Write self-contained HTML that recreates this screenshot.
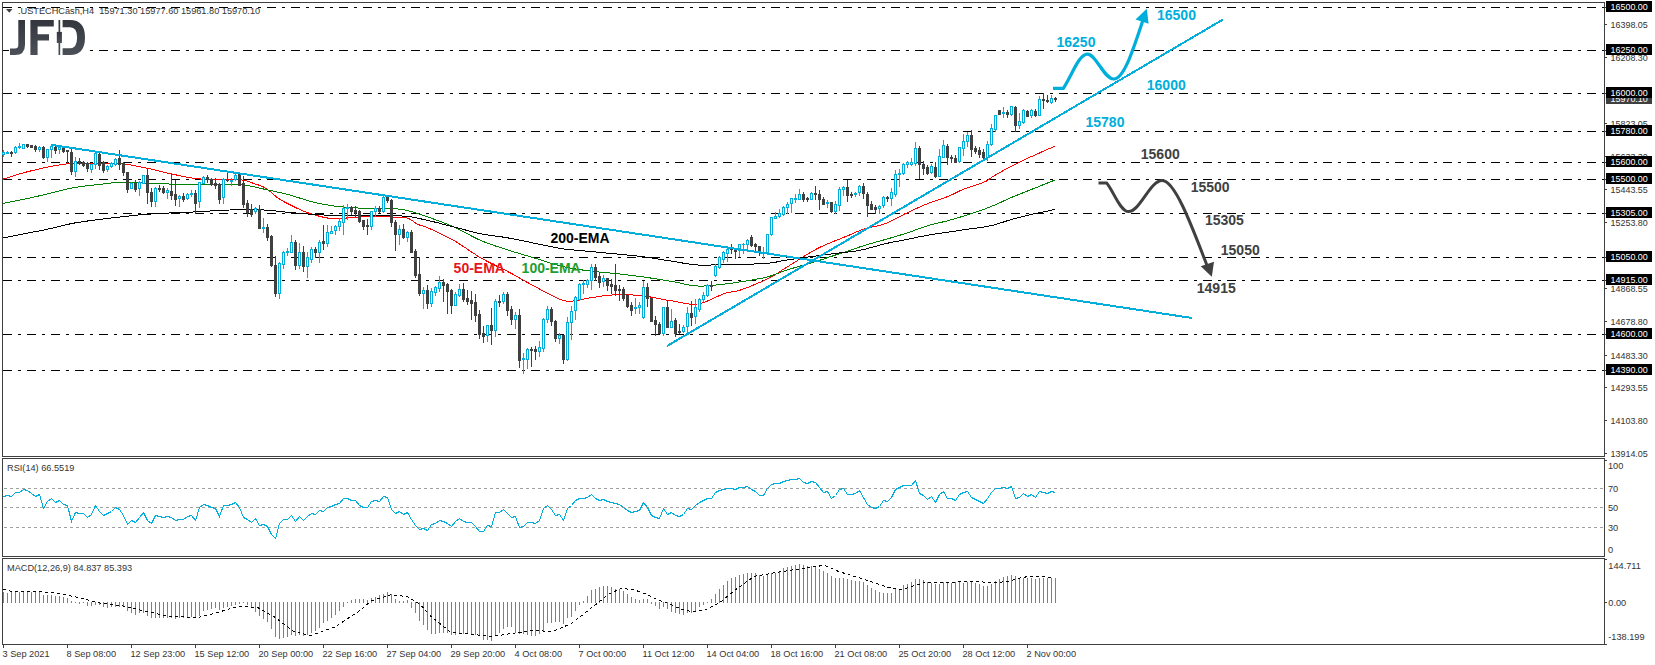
<!DOCTYPE html>
<html><head><meta charset="utf-8"><style>
html,body{margin:0;padding:0;background:#fff;}
svg{display:block;}
text{font-family:"Liberation Sans",sans-serif;}
</style></head><body>
<svg width="1655" height="665" viewBox="0 0 1655 665">
<rect x="0" y="0" width="1655" height="665" fill="#fff"/>

<g fill="none" stroke="#404040" stroke-width="1" shape-rendering="crispEdges">
<rect x="2.5" y="2.5" width="1602" height="454"/>
<rect x="2.5" y="458.5" width="1602" height="98"/>
<rect x="2.5" y="558.5" width="1602" height="86"/>
</g>
<g stroke="#000" stroke-width="1" stroke-dasharray="9 6 3 6" shape-rendering="crispEdges">
<line x1="3" y1="7.5" x2="1604" y2="7.5"/>
<line x1="3" y1="50.5" x2="1604" y2="50.5"/>
<line x1="3" y1="93.5" x2="1604" y2="93.5"/>
<line x1="3" y1="131.5" x2="1604" y2="131.5"/>
<line x1="3" y1="162.5" x2="1604" y2="162.5"/>
<line x1="3" y1="179.5" x2="1604" y2="179.5"/>
<line x1="3" y1="213.5" x2="1604" y2="213.5"/>
<line x1="3" y1="257.5" x2="1604" y2="257.5"/>
<line x1="3" y1="280.5" x2="1604" y2="280.5"/>
<line x1="3" y1="334.5" x2="1604" y2="334.5"/>
<line x1="3" y1="370.5" x2="1604" y2="370.5"/>
</g>
<polyline points="3.0,179.2 4.2,178.8 5.8,178.3 7.7,177.7 9.8,177.0 12.1,176.2 14.5,175.5 17.0,174.7 19.4,174.0 21.9,173.2 24.2,172.6 26.1,172.1 28.1,171.6 30.1,171.1 32.1,170.6 34.2,170.1 36.2,169.6 38.3,169.1 40.3,168.7 42.4,168.2 44.4,167.8 46.4,167.4 48.3,167.0 50.5,166.6 52.7,166.1 54.8,165.7 56.9,165.4 59.0,165.0 61.1,164.7 63.2,164.4 65.4,164.1 67.6,163.9 70.0,163.7 71.9,163.6 73.9,163.5 75.9,163.5 77.9,163.5 80.0,163.5 82.1,163.5 84.3,163.5 86.4,163.5 88.5,163.6 90.6,163.6 92.7,163.7 94.7,163.7 96.7,163.7 98.8,163.7 100.9,163.7 102.9,163.6 104.9,163.5 106.9,163.5 108.9,163.4 110.9,163.4 112.9,163.4 114.8,163.4 116.8,163.5 118.8,163.6 120.8,163.7 122.8,163.9 124.8,164.1 126.8,164.4 128.9,164.7 130.9,165.0 132.9,165.4 134.9,165.8 136.9,166.2 138.9,166.6 141.0,167.0 143.0,167.4 145.0,167.8 147.0,168.2 149.0,168.7 151.1,169.1 153.1,169.6 155.1,170.1 157.1,170.6 159.1,171.0 161.1,171.5 163.2,172.0 165.2,172.5 167.2,173.0 169.2,173.4 171.2,173.8 173.2,174.3 175.3,174.7 177.3,175.2 179.3,175.6 181.3,176.0 183.3,176.5 185.3,176.9 187.4,177.2 189.4,177.6 191.4,177.9 193.4,178.2 195.4,178.5 197.4,178.7 199.4,178.9 201.4,179.1 203.4,179.2 205.5,179.3 207.5,179.5 209.5,179.6 211.5,179.7 213.5,179.8 215.5,179.8 217.5,179.9 219.6,179.9 221.7,180.0 223.8,179.9 226.0,179.9 228.2,179.8 230.3,179.8 232.5,179.7 234.5,179.7 236.5,179.7 238.4,179.7 240.1,179.8 241.7,179.9 244.4,180.3 246.6,180.8 248.5,181.4 250.2,182.1 251.9,182.8 253.8,183.5 255.8,184.2 257.8,184.8 259.9,185.5 261.9,186.3 263.9,187.2 265.9,188.3 267.9,189.7 269.9,191.3 272.0,193.0 274.0,194.8 276.0,196.5 278.0,198.0 279.9,199.3 281.8,200.4 283.7,201.5 285.6,202.6 287.7,203.6 290.0,204.8 291.9,205.7 293.8,206.7 295.9,207.7 298.0,208.7 300.2,209.7 302.5,210.7 304.7,211.6 307.0,212.5 309.1,213.2 311.3,213.9 313.5,214.6 315.8,215.3 318.1,215.9 320.3,216.5 322.5,217.0 324.5,217.4 326.3,217.8 328.6,218.2 330.4,218.5 332.0,218.6 333.7,218.6 335.8,218.6 338.4,218.5 340.0,218.4 341.7,218.3 343.6,218.2 345.5,218.1 347.6,217.9 349.7,217.7 351.8,217.6 354.0,217.4 356.2,217.2 358.3,217.1 360.4,217.0 362.5,216.9 364.5,216.8 366.7,216.8 368.8,216.8 371.0,216.8 373.1,216.8 375.3,216.8 377.4,216.8 379.4,216.8 381.4,216.8 383.3,216.8 385.1,216.9 386.7,216.9 389.6,217.0 392.1,217.1 394.3,217.2 396.3,217.3 398.2,217.5 400.0,217.6 402.5,217.7 404.5,217.7 406.5,217.9 408.6,218.5 410.9,219.7 413.4,221.4 415.8,223.1 418.2,224.5 420.0,225.2 421.5,225.6 423.5,226.1 427.0,227.5 428.5,228.2 430.2,228.9 432.0,229.7 434.0,230.6 436.1,231.6 438.2,232.6 440.5,233.7 442.8,234.8 445.1,235.9 447.4,237.1 449.7,238.2 451.9,239.4 454.0,240.6 456.1,241.8 458.2,243.1 460.2,244.4 462.3,245.8 464.4,247.1 466.5,248.6 468.5,250.0 470.6,251.4 472.7,252.8 474.8,254.1 476.8,255.5 478.9,256.8 481.0,258.0 483.1,259.2 485.2,260.3 487.2,261.4 489.3,262.4 491.4,263.5 493.5,264.5 495.5,265.5 497.6,266.5 499.7,267.5 501.8,268.5 503.8,269.6 505.9,270.6 508.0,271.7 510.1,272.8 512.2,273.9 514.2,275.1 516.3,276.2 518.4,277.4 520.5,278.6 522.5,279.8 524.6,280.9 526.7,282.1 528.8,283.2 530.8,284.4 532.9,285.5 535.0,286.6 537.1,287.7 539.3,288.9 541.5,290.1 543.7,291.2 546.0,292.4 548.2,293.6 550.4,294.8 552.6,295.8 554.7,296.9 556.7,297.8 558.6,298.7 560.3,299.4 562.0,300.0 564.7,300.8 567.0,301.2 569.0,301.4 570.8,301.3 572.5,301.1 574.2,300.9 576.0,300.7 578.1,300.5 579.9,300.1 581.7,299.6 583.6,299.1 586.0,298.5 589.0,298.0 590.6,297.8 592.4,297.5 594.4,297.2 596.4,296.9 598.5,296.6 600.7,296.3 603.0,295.9 605.3,295.7 607.6,295.4 609.9,295.2 612.1,295.0 614.4,294.8 616.5,294.7 618.6,294.6 620.7,294.6 622.8,294.6 624.9,294.6 627.0,294.7 629.0,294.8 631.1,294.9 633.2,295.0 635.3,295.2 637.4,295.4 639.4,295.6 641.5,295.8 643.6,296.0 645.7,296.3 647.8,296.5 649.8,296.9 651.9,297.2 654.0,297.6 656.1,298.0 658.1,298.4 660.2,298.8 662.3,299.2 664.4,299.6 666.4,300.0 668.5,300.4 670.6,300.7 672.7,301.0 674.8,301.4 676.8,301.8 678.9,302.3 681.0,302.7 683.1,303.1 685.1,303.5 687.2,303.8 689.3,304.1 691.4,304.2 693.4,304.3 695.5,304.2 697.6,304.0 699.7,303.6 701.9,303.1 704.1,302.4 706.3,301.5 708.6,300.6 710.8,299.6 713.0,298.6 715.1,297.6 717.2,296.6 719.2,295.6 721.2,294.8 723.0,294.0 724.7,293.4 727.4,292.6 729.6,292.2 731.5,291.9 733.2,291.7 735.1,291.5 737.3,291.0 740.0,290.2 741.7,289.6 743.6,288.9 745.7,288.1 747.9,287.3 750.1,286.4 752.4,285.5 754.8,284.5 757.1,283.6 759.3,282.6 761.4,281.7 763.5,280.8 765.3,280.0 767.0,279.2 770.0,277.7 772.4,276.4 774.4,275.1 776.3,273.9 778.3,272.6 780.6,271.1 782.6,269.8 784.9,268.4 787.2,267.0 789.6,265.5 791.9,264.0 794.1,262.6 796.1,261.4 797.8,260.3 800.6,258.5 802.3,257.4 805.0,255.8 806.5,254.9 808.2,253.9 809.9,252.8 811.9,251.7 813.9,250.5 816.2,249.2 818.6,248.0 821.2,246.7 823.0,245.9 824.9,245.0 826.9,244.2 829.1,243.3 831.3,242.3 833.6,241.4 835.9,240.5 838.2,239.6 840.4,238.7 842.6,237.8 844.6,237.0 846.6,236.2 848.3,235.5 851.1,234.3 853.5,233.3 855.6,232.3 857.6,231.5 859.6,230.6 861.8,229.8 864.2,229.0 866.1,228.4 868.1,227.9 870.2,227.5 872.3,227.0 874.4,226.6 876.6,226.1 878.8,225.6 881.0,225.1 883.2,224.4 885.3,223.7 887.4,222.9 889.5,221.9 891.6,220.9 893.7,219.8 895.8,218.7 897.9,217.6 900.0,216.4 902.1,215.3 904.2,214.2 906.3,213.2 908.4,212.2 910.5,211.2 912.6,210.2 914.7,209.2 916.8,208.3 919.0,207.3 921.1,206.4 923.2,205.4 925.3,204.6 927.4,203.7 929.5,202.9 931.7,202.1 933.9,201.3 936.1,200.6 938.3,199.8 940.5,199.1 942.6,198.4 944.6,197.7 946.6,197.0 948.4,196.3 950.8,195.3 952.8,194.3 954.8,193.4 956.6,192.4 958.5,191.5 960.6,190.5 963.0,189.5 964.9,188.8 967.0,188.0 969.3,187.3 971.6,186.5 974.0,185.7 976.3,184.9 978.6,184.2 980.7,183.5 982.6,182.8 984.2,182.1 987.1,180.7 988.9,179.4 990.5,178.2 992.6,176.8 994.4,175.7 996.2,174.6 998.1,173.5 1000.2,172.3 1002.6,170.9 1005.2,169.5 1006.9,168.6 1008.8,167.6 1010.7,166.6 1012.7,165.6 1014.8,164.5 1016.9,163.4 1019.2,162.3 1021.5,161.2 1023.9,160.1 1026.3,158.9 1028.2,158.0 1030.2,157.1 1032.4,156.1 1034.7,155.1 1037.1,154.0 1039.5,153.0 1041.8,151.9 1044.1,150.9 1046.4,150.0 1048.4,149.0 1050.4,148.2 1052.1,147.5 1053.5,146.8 1054.7,146.3" fill="none" stroke="#ff0000" stroke-width="1" shape-rendering="crispEdges"/>
<polyline points="3.0,203.3 4.2,203.1 5.8,202.8 7.7,202.4 9.8,202.0 12.1,201.6 14.5,201.1 17.0,200.7 19.4,200.2 21.9,199.7 24.2,199.2 26.1,198.8 28.0,198.4 30.0,197.9 32.0,197.5 34.0,197.0 36.1,196.6 38.1,196.1 40.2,195.6 42.2,195.1 44.2,194.7 46.3,194.2 48.3,193.7 50.3,193.2 52.3,192.7 54.3,192.2 56.4,191.7 58.4,191.2 60.4,190.7 62.4,190.1 64.4,189.7 66.4,189.2 68.5,188.7 70.5,188.3 72.5,187.9 74.5,187.5 76.5,187.2 78.6,186.9 80.6,186.6 82.6,186.3 84.6,186.1 86.6,185.8 88.6,185.6 90.7,185.4 92.7,185.2 94.7,184.9 96.7,184.7 98.7,184.5 100.7,184.2 102.7,184.0 104.7,183.7 106.7,183.5 108.8,183.3 110.8,183.0 112.8,182.8 114.8,182.7 116.8,182.5 118.8,182.4 120.8,182.3 122.8,182.2 124.8,182.2 126.8,182.2 128.9,182.3 130.9,182.4 132.9,182.4 134.9,182.5 136.9,182.6 138.9,182.7 141.0,182.8 143.0,182.9 145.0,183.0 147.0,183.1 149.0,183.2 151.1,183.2 153.1,183.3 155.1,183.4 157.1,183.5 159.1,183.6 161.1,183.7 163.2,183.8 165.2,183.8 167.2,183.9 169.2,184.0 171.2,184.1 173.2,184.1 175.3,184.2 177.3,184.3 179.3,184.3 181.3,184.4 183.3,184.5 185.3,184.5 187.4,184.6 189.4,184.6 191.4,184.7 193.4,184.7 195.4,184.7 197.4,184.7 199.4,184.7 201.4,184.8 203.4,184.7 205.5,184.7 207.5,184.7 209.5,184.7 211.5,184.7 213.5,184.7 215.5,184.7 217.5,184.7 219.5,184.7 221.5,184.6 223.5,184.6 225.6,184.5 227.6,184.5 229.6,184.4 231.6,184.4 233.6,184.3 235.6,184.4 237.7,184.4 239.7,184.5 241.7,184.7 243.7,184.9 245.7,185.2 247.8,185.5 249.8,185.9 251.8,186.3 253.8,186.7 255.8,187.2 257.8,187.7 259.9,188.1 261.9,188.6 263.9,189.1 265.9,189.5 267.9,189.9 269.9,190.4 271.9,190.8 273.9,191.2 275.9,191.7 277.9,192.1 280.0,192.6 282.0,193.1 284.0,193.6 286.0,194.1 288.0,194.6 290.0,195.1 292.0,195.7 294.0,196.3 296.0,196.9 298.1,197.5 300.1,198.2 302.1,198.8 304.1,199.5 306.1,200.1 308.1,200.8 310.2,201.3 312.2,201.9 314.2,202.4 316.2,202.9 318.2,203.3 320.3,203.7 322.3,204.1 324.3,204.5 326.3,204.8 328.3,205.1 330.3,205.4 332.4,205.7 334.4,206.0 336.4,206.3 338.4,206.5 340.4,206.7 342.3,206.9 344.1,207.1 345.9,207.3 347.8,207.4 349.6,207.5 351.5,207.7 353.5,207.8 355.5,207.9 357.7,208.0 360.0,208.1 362.5,208.2 364.3,208.3 366.1,208.3 368.1,208.3 370.1,208.3 372.2,208.3 374.4,208.3 376.6,208.3 378.8,208.3 381.1,208.3 383.3,208.3 385.6,208.4 387.8,208.4 390.0,208.5 392.1,208.5 394.2,208.7 396.2,208.8 398.2,209.0 400.0,209.2 402.4,209.6 404.7,210.0 406.9,210.4 409.1,211.0 411.1,211.5 413.2,212.1 415.1,212.7 417.1,213.4 419.0,214.1 421.0,214.7 423.0,215.4 425.0,216.1 427.0,216.8 429.1,217.5 431.2,218.2 433.2,218.9 435.3,219.6 437.4,220.4 439.5,221.1 441.5,221.9 443.6,222.7 445.7,223.5 447.8,224.4 449.8,225.2 451.9,226.1 454.0,227.0 456.1,227.9 458.2,228.9 460.2,230.0 462.3,231.1 464.4,232.2 466.5,233.3 468.5,234.4 470.6,235.5 472.7,236.6 474.8,237.7 476.8,238.7 478.9,239.7 481.0,240.6 483.1,241.5 485.2,242.3 487.2,243.1 489.3,243.8 491.4,244.6 493.5,245.3 495.5,246.0 497.6,246.7 499.7,247.3 501.8,248.0 503.8,248.7 505.9,249.3 508.0,250.0 510.1,250.7 512.2,251.3 514.2,252.0 516.3,252.6 518.4,253.2 520.5,253.9 522.5,254.5 524.6,255.1 526.7,255.7 528.8,256.3 530.8,257.0 532.9,257.6 535.0,258.2 537.1,258.8 539.1,259.5 541.2,260.1 543.3,260.8 545.4,261.5 547.4,262.1 549.5,262.8 551.6,263.4 553.7,264.1 555.7,264.7 557.8,265.2 559.9,265.8 562.0,266.3 564.1,266.8 566.2,267.2 568.3,267.7 570.4,268.1 572.6,268.5 574.7,268.8 576.8,269.2 578.9,269.5 581.1,269.8 583.2,270.1 585.3,270.4 587.4,270.7 589.5,271.0 591.6,271.3 593.7,271.5 595.8,271.7 597.8,271.9 599.9,272.1 602.0,272.3 604.1,272.5 606.1,272.6 608.2,272.8 610.3,273.0 612.3,273.2 614.4,273.4 616.5,273.6 618.6,273.8 620.7,274.1 622.7,274.3 624.8,274.6 626.9,274.8 629.0,275.1 631.1,275.3 633.2,275.6 635.3,275.9 637.4,276.1 639.4,276.4 641.5,276.7 643.6,277.0 645.7,277.3 647.8,277.6 649.8,277.9 651.9,278.2 654.0,278.5 656.1,278.9 658.1,279.2 660.2,279.5 662.3,279.8 664.4,280.2 666.4,280.5 668.5,280.9 670.6,281.2 672.7,281.6 674.8,282.0 676.9,282.4 679.0,282.9 681.1,283.3 683.2,283.8 685.2,284.2 687.3,284.6 689.4,285.0 691.5,285.3 693.6,285.6 695.7,285.9 697.8,286.0 699.9,286.1 702.1,286.1 704.3,286.0 706.5,285.9 708.7,285.7 711.0,285.5 713.1,285.3 715.3,285.1 717.4,284.8 719.4,284.6 721.3,284.4 723.1,284.2 724.8,284.0 727.5,283.7 729.7,283.5 731.5,283.3 733.3,283.0 735.1,282.7 737.3,282.3 740.0,281.9 741.7,281.6 743.6,281.3 745.6,281.0 747.7,280.6 749.9,280.3 752.2,279.9 754.5,279.5 756.7,279.1 759.0,278.7 761.1,278.3 763.2,277.9 765.2,277.4 767.0,277.0 769.4,276.3 771.6,275.7 773.7,274.9 775.7,274.2 777.5,273.5 779.4,272.7 781.2,272.0 783.1,271.3 785.1,270.6 787.1,270.0 789.1,269.3 791.1,268.7 793.1,268.1 795.2,267.5 797.2,267.0 799.2,266.4 801.2,265.8 803.2,265.2 805.3,264.6 807.4,264.0 809.5,263.3 811.7,262.7 813.8,262.0 815.9,261.4 817.8,260.8 819.6,260.3 821.2,259.8 823.8,259.0 825.5,258.4 827.3,257.7 830.3,256.7 831.9,256.2 833.7,255.6 835.8,254.9 838.0,254.2 840.2,253.5 842.6,252.7 844.9,252.0 847.1,251.3 849.2,250.6 851.1,250.0 852.8,249.4 855.6,248.4 857.7,247.7 859.5,247.0 861.5,246.4 864.2,245.5 865.9,245.0 867.8,244.4 869.8,243.9 871.9,243.3 874.2,242.7 876.4,242.0 878.7,241.4 880.9,240.8 883.2,240.1 885.3,239.5 887.4,238.9 889.5,238.3 891.6,237.7 893.7,237.1 895.8,236.4 897.9,235.8 900.0,235.2 902.1,234.5 904.2,233.9 906.3,233.2 908.4,232.5 910.5,231.8 912.6,231.0 914.7,230.2 916.8,229.4 919.0,228.7 921.1,227.9 923.2,227.2 925.3,226.5 927.4,225.8 929.5,225.2 931.6,224.6 933.7,224.1 935.8,223.6 937.9,223.1 940.0,222.6 942.1,222.1 944.2,221.6 946.3,221.1 948.4,220.5 950.5,219.9 952.6,219.3 954.7,218.7 956.8,218.1 958.9,217.5 961.1,216.8 963.2,216.2 965.3,215.5 967.4,214.9 969.5,214.2 971.6,213.5 973.7,212.8 975.8,212.1 977.9,211.4 980.0,210.7 982.1,210.0 984.2,209.2 986.3,208.4 988.4,207.6 990.5,206.8 992.6,205.9 994.7,205.0 996.8,204.1 998.9,203.1 1001.0,202.2 1003.2,201.2 1005.3,200.2 1007.4,199.2 1009.5,198.3 1011.6,197.4 1013.7,196.5 1015.8,195.7 1017.9,194.8 1020.0,194.0 1022.0,193.2 1024.1,192.3 1026.2,191.5 1028.3,190.7 1030.5,189.9 1032.6,189.0 1034.7,188.2 1036.9,187.3 1039.1,186.4 1041.5,185.4 1043.8,184.5 1046.1,183.6 1048.2,182.7 1050.2,181.9 1052.0,181.2 1053.5,180.6 1054.7,180.1" fill="none" stroke="#008000" stroke-width="1" shape-rendering="crispEdges"/>
<polyline points="3.0,237.9 4.2,237.7 5.8,237.4 7.7,237.0 9.8,236.6 12.1,236.2 14.5,235.7 17.0,235.2 19.4,234.7 21.9,234.3 24.2,233.8 26.1,233.4 28.0,233.0 30.0,232.7 32.0,232.3 34.0,231.9 36.1,231.5 38.1,231.1 40.2,230.7 42.2,230.3 44.2,229.9 46.3,229.4 48.3,229.0 50.3,228.6 52.3,228.1 54.3,227.6 56.4,227.1 58.4,226.6 60.4,226.1 62.4,225.6 64.4,225.1 66.4,224.7 68.5,224.2 70.5,223.8 72.5,223.4 74.5,223.0 76.5,222.7 78.6,222.3 80.6,222.0 82.6,221.7 84.6,221.4 86.6,221.1 88.6,220.9 90.7,220.6 92.7,220.3 94.7,220.1 96.7,219.8 98.7,219.5 100.7,219.3 102.7,219.0 104.7,218.8 106.7,218.5 108.8,218.3 110.8,218.0 112.8,217.8 114.8,217.6 116.8,217.4 118.8,217.1 120.8,216.9 122.8,216.7 124.8,216.4 126.8,216.2 128.9,216.0 130.9,215.8 132.9,215.6 134.9,215.3 136.9,215.1 138.9,214.9 141.0,214.7 143.0,214.6 145.0,214.4 147.0,214.2 149.0,214.1 151.1,214.0 153.1,213.8 155.1,213.7 157.1,213.6 159.1,213.5 161.1,213.4 163.2,213.3 165.2,213.2 167.2,213.1 169.2,213.0 171.2,212.9 173.2,212.8 175.3,212.7 177.3,212.7 179.3,212.6 181.3,212.5 183.3,212.4 185.3,212.3 187.4,212.3 189.4,212.2 191.4,212.1 193.4,212.0 195.4,211.9 197.4,211.8 199.4,211.7 201.4,211.5 203.4,211.4 205.5,211.3 207.5,211.2 209.5,211.1 211.5,210.9 213.5,210.8 215.5,210.7 217.5,210.6 219.5,210.5 221.5,210.4 223.5,210.3 225.6,210.2 227.6,210.1 229.6,210.0 231.6,209.9 233.6,209.8 235.6,209.7 237.7,209.7 239.7,209.6 241.7,209.6 243.7,209.6 245.7,209.6 247.8,209.6 249.8,209.6 251.8,209.6 253.8,209.6 255.8,209.7 257.8,209.7 259.9,209.8 261.9,209.9 263.9,210.0 265.9,210.1 267.9,210.2 269.9,210.4 271.9,210.6 273.9,210.8 275.9,211.0 277.9,211.2 280.0,211.4 282.0,211.7 284.0,211.9 286.0,212.1 288.0,212.3 290.0,212.5 292.0,212.7 294.0,212.9 296.0,213.0 298.1,213.2 300.1,213.4 302.1,213.5 304.1,213.7 306.1,213.9 308.1,214.0 310.2,214.1 312.2,214.3 314.2,214.4 316.1,214.5 317.8,214.6 319.4,214.7 320.9,214.8 322.4,214.9 324.0,215.0 325.7,215.1 327.6,215.1 329.7,215.2 332.2,215.3 335.1,215.3 338.4,215.4 339.9,215.4 341.5,215.4 343.2,215.5 345.0,215.5 346.9,215.5 348.9,215.5 350.9,215.5 353.0,215.5 355.2,215.5 357.4,215.5 359.7,215.5 362.0,215.4 364.3,215.4 366.7,215.4 369.0,215.4 371.4,215.4 373.7,215.4 376.1,215.4 378.4,215.5 380.6,215.5 382.9,215.5 385.1,215.5 387.2,215.5 389.3,215.6 391.3,215.6 393.2,215.6 395.1,215.7 396.8,215.8 398.5,215.8 400.0,215.9 403.2,216.1 406.1,216.3 408.6,216.6 410.9,216.9 412.9,217.2 414.8,217.5 416.5,217.9 418.2,218.3 419.8,218.6 421.5,219.0 423.2,219.5 425.0,219.9 427.0,220.3 429.1,220.7 431.2,221.2 433.2,221.7 435.3,222.2 437.4,222.7 439.5,223.2 441.5,223.8 443.6,224.3 445.7,224.9 447.8,225.4 449.8,225.9 451.9,226.5 454.0,227.0 456.1,227.5 458.2,228.1 460.2,228.6 462.3,229.2 464.4,229.7 466.5,230.3 468.5,230.8 470.6,231.4 472.7,231.9 474.8,232.4 476.8,232.9 478.9,233.4 481.0,233.8 483.1,234.2 485.2,234.6 487.2,234.9 489.3,235.2 491.4,235.5 493.5,235.8 495.5,236.1 497.6,236.4 499.7,236.6 501.8,236.9 503.8,237.2 505.9,237.5 508.0,237.9 510.1,238.3 512.2,238.7 514.2,239.1 516.3,239.5 518.4,239.9 520.5,240.3 522.5,240.7 524.6,241.2 526.7,241.6 528.8,242.0 530.8,242.5 532.9,242.9 535.0,243.3 537.1,243.7 539.1,244.2 541.2,244.6 543.3,245.1 545.4,245.5 547.4,245.9 549.5,246.4 551.6,246.8 553.7,247.2 555.7,247.6 557.8,248.0 559.9,248.4 562.0,248.7 564.1,249.0 566.2,249.3 568.3,249.5 570.4,249.7 572.6,249.9 574.7,250.1 576.8,250.3 578.9,250.5 581.1,250.7 583.2,250.8 585.3,251.0 587.4,251.2 589.5,251.4 591.6,251.6 593.7,251.8 595.8,252.0 597.8,252.2 599.9,252.4 602.0,252.6 604.1,252.8 606.1,253.0 608.2,253.2 610.3,253.4 612.3,253.6 614.4,253.8 616.5,254.0 618.6,254.2 620.7,254.4 622.7,254.6 624.8,254.8 626.9,255.0 629.0,255.2 631.1,255.4 633.2,255.6 635.3,255.8 637.4,256.1 639.4,256.3 641.5,256.5 643.6,256.8 645.7,257.1 647.8,257.4 649.8,257.7 651.9,258.0 654.0,258.3 656.1,258.7 658.1,259.0 660.2,259.3 662.3,259.7 664.4,260.0 666.4,260.4 668.5,260.7 670.6,261.0 672.7,261.3 674.8,261.7 676.9,262.0 679.0,262.4 681.1,262.8 683.2,263.1 685.2,263.5 687.3,263.8 689.4,264.1 691.5,264.4 693.6,264.6 695.7,264.8 697.8,265.0 699.9,265.1 702.1,265.2 704.3,265.2 706.5,265.1 708.7,265.1 711.0,265.0 713.1,264.9 715.3,264.8 717.4,264.7 719.4,264.6 721.3,264.5 723.1,264.4 724.8,264.4 727.5,264.4 729.7,264.4 731.5,264.4 733.3,264.4 735.1,264.4 737.3,264.4 740.0,264.3 741.7,264.3 743.6,264.2 745.6,264.2 747.7,264.2 749.9,264.1 752.2,264.1 754.5,264.0 756.7,263.9 759.0,263.9 761.1,263.8 763.2,263.7 765.2,263.5 767.0,263.4 769.4,263.1 771.6,262.9 773.7,262.5 775.7,262.2 777.5,261.8 779.4,261.4 781.2,261.0 783.1,260.6 785.1,260.3 787.1,260.0 789.1,259.7 791.1,259.4 793.1,259.1 795.2,258.8 797.2,258.5 799.2,258.2 801.2,257.9 803.2,257.6 805.2,257.3 807.2,257.1 809.2,256.8 811.2,256.6 813.2,256.3 815.2,256.1 817.2,255.8 819.2,255.6 821.2,255.3 823.2,255.0 825.2,254.8 827.1,254.5 829.1,254.3 831.1,254.0 833.1,253.8 835.1,253.5 837.2,253.3 839.3,253.0 841.2,252.8 843.2,252.5 845.2,252.3 847.2,252.1 849.2,251.9 851.3,251.7 853.4,251.4 855.5,251.1 857.7,250.7 860.0,250.3 862.0,249.9 864.0,249.4 866.1,248.9 868.3,248.3 870.4,247.7 872.6,247.1 874.8,246.5 877.0,245.9 879.2,245.3 881.3,244.7 883.3,244.2 885.3,243.7 887.6,243.2 889.8,242.7 891.9,242.3 894.0,241.8 896.1,241.4 898.1,241.1 900.1,240.7 902.2,240.3 904.2,239.9 906.3,239.5 908.4,239.1 910.5,238.6 912.6,238.2 914.7,237.8 916.8,237.3 919.0,236.9 921.1,236.5 923.2,236.1 925.3,235.7 927.4,235.3 929.5,234.9 931.6,234.6 933.7,234.3 935.8,233.9 937.9,233.6 940.0,233.3 942.1,233.0 944.2,232.7 946.3,232.4 948.4,232.1 950.5,231.8 952.6,231.5 954.7,231.2 956.8,230.9 958.9,230.5 961.1,230.2 963.2,229.9 965.3,229.6 967.4,229.3 969.5,229.0 971.6,228.7 973.7,228.4 975.8,228.1 977.9,227.9 980.0,227.6 982.1,227.3 984.2,227.0 986.3,226.6 988.4,226.2 990.5,225.8 992.6,225.3 994.7,224.7 996.8,224.1 998.9,223.5 1001.0,222.8 1003.2,222.1 1005.3,221.4 1007.4,220.7 1009.5,220.1 1011.6,219.5 1013.7,218.9 1015.8,218.4 1017.9,217.8 1020.0,217.3 1022.0,216.7 1024.1,216.2 1026.2,215.7 1028.3,215.2 1030.5,214.7 1032.6,214.2 1034.7,213.7 1036.9,213.3 1039.1,212.8 1041.5,212.3 1043.8,211.8 1046.1,211.3 1048.2,210.9 1050.2,210.5 1052.0,210.1 1053.5,209.8 1054.7,209.6" fill="none" stroke="#000000" stroke-width="1" shape-rendering="crispEdges"/>
<g shape-rendering="crispEdges">
<line x1="3.5" y1="150" x2="3.5" y2="157" stroke="#00aedb"/>
<rect x="2.5" y="152.5" width="2" height="2" fill="#fff" stroke="#00aedb"/>
<line x1="7.5" y1="151" x2="7.5" y2="154" stroke="#00aedb"/>
<rect x="6" y="152" width="3" height="2" fill="#00aedb"/>
<line x1="11.5" y1="151" x2="11.5" y2="157" stroke="#404040"/>
<rect x="10" y="152" width="3" height="2" fill="#404040"/>
<line x1="15.5" y1="146" x2="15.5" y2="154" stroke="#00aedb"/>
<rect x="14.5" y="147.5" width="2" height="5" fill="#fff" stroke="#00aedb"/>
<line x1="19.5" y1="143" x2="19.5" y2="149" stroke="#00aedb"/>
<rect x="18" y="146" width="3" height="2" fill="#00aedb"/>
<line x1="23.5" y1="144" x2="23.5" y2="149" stroke="#00aedb"/>
<rect x="22.5" y="144.5" width="2" height="4" fill="#fff" stroke="#00aedb"/>
<line x1="27.5" y1="144" x2="27.5" y2="148" stroke="#404040"/>
<rect x="26" y="144" width="3" height="3" fill="#404040"/>
<line x1="31.5" y1="145" x2="31.5" y2="148" stroke="#404040"/>
<rect x="30" y="145" width="3" height="3" fill="#404040"/>
<line x1="35.5" y1="145" x2="35.5" y2="152" stroke="#404040"/>
<rect x="34" y="146" width="3" height="4" fill="#404040"/>
<line x1="39.5" y1="146" x2="39.5" y2="152" stroke="#00aedb"/>
<rect x="38.5" y="147.5" width="2" height="2" fill="#fff" stroke="#00aedb"/>
<line x1="43.5" y1="146" x2="43.5" y2="159" stroke="#404040"/>
<rect x="42" y="147" width="3" height="11" fill="#404040"/>
<line x1="47.5" y1="149" x2="47.5" y2="162" stroke="#00aedb"/>
<rect x="46.5" y="149.5" width="2" height="8" fill="#fff" stroke="#00aedb"/>
<line x1="51.5" y1="145" x2="51.5" y2="158" stroke="#00aedb"/>
<rect x="50.5" y="146.5" width="2" height="3" fill="#fff" stroke="#00aedb"/>
<line x1="55.5" y1="146" x2="55.5" y2="154" stroke="#404040"/>
<rect x="54" y="147" width="3" height="4" fill="#404040"/>
<line x1="59.5" y1="146" x2="59.5" y2="154" stroke="#00aedb"/>
<rect x="58.5" y="147.5" width="2" height="2" fill="#fff" stroke="#00aedb"/>
<line x1="63.5" y1="146" x2="63.5" y2="153" stroke="#404040"/>
<rect x="62" y="147" width="3" height="5" fill="#404040"/>
<line x1="67.5" y1="150" x2="67.5" y2="164" stroke="#404040"/>
<rect x="66" y="150" width="3" height="2" fill="#404040"/>
<line x1="71.5" y1="148" x2="71.5" y2="175" stroke="#404040"/>
<rect x="70" y="152" width="3" height="20" fill="#404040"/>
<line x1="75.5" y1="157" x2="75.5" y2="177" stroke="#00aedb"/>
<rect x="74.5" y="161.5" width="2" height="10" fill="#fff" stroke="#00aedb"/>
<line x1="79.5" y1="158" x2="79.5" y2="165" stroke="#404040"/>
<rect x="78" y="161" width="3" height="3" fill="#404040"/>
<line x1="83.5" y1="161" x2="83.5" y2="167" stroke="#404040"/>
<rect x="82" y="162" width="3" height="4" fill="#404040"/>
<line x1="87.5" y1="162" x2="87.5" y2="172" stroke="#404040"/>
<rect x="86" y="163" width="3" height="6" fill="#404040"/>
<line x1="91.5" y1="163" x2="91.5" y2="173" stroke="#00aedb"/>
<rect x="90.5" y="164.5" width="2" height="5" fill="#fff" stroke="#00aedb"/>
<line x1="95.5" y1="151" x2="95.5" y2="169" stroke="#00aedb"/>
<rect x="94.5" y="153.5" width="2" height="11" fill="#fff" stroke="#00aedb"/>
<line x1="99.5" y1="153" x2="99.5" y2="170" stroke="#404040"/>
<rect x="98" y="154" width="3" height="12" fill="#404040"/>
<line x1="103.5" y1="161" x2="103.5" y2="173" stroke="#404040"/>
<rect x="102" y="162" width="3" height="9" fill="#404040"/>
<line x1="107.5" y1="165" x2="107.5" y2="172" stroke="#00aedb"/>
<rect x="106.5" y="166.5" width="2" height="3" fill="#fff" stroke="#00aedb"/>
<line x1="111.5" y1="162" x2="111.5" y2="168" stroke="#00aedb"/>
<rect x="110.5" y="163.5" width="2" height="3" fill="#fff" stroke="#00aedb"/>
<line x1="115.5" y1="158" x2="115.5" y2="166" stroke="#00aedb"/>
<rect x="114.5" y="159.5" width="2" height="5" fill="#fff" stroke="#00aedb"/>
<line x1="119.5" y1="150" x2="119.5" y2="170" stroke="#404040"/>
<rect x="118" y="158" width="3" height="7" fill="#404040"/>
<line x1="123.5" y1="162" x2="123.5" y2="176" stroke="#404040"/>
<rect x="122" y="163" width="3" height="10" fill="#404040"/>
<line x1="127.5" y1="172" x2="127.5" y2="193" stroke="#404040"/>
<rect x="126" y="172" width="3" height="18" fill="#404040"/>
<line x1="131.5" y1="182" x2="131.5" y2="189" stroke="#00aedb"/>
<rect x="130.5" y="183.5" width="2" height="5" fill="#fff" stroke="#00aedb"/>
<line x1="135.5" y1="180" x2="135.5" y2="192" stroke="#404040"/>
<rect x="134" y="183" width="3" height="7" fill="#404040"/>
<line x1="139.5" y1="181" x2="139.5" y2="196" stroke="#00aedb"/>
<rect x="138.5" y="182.5" width="2" height="6" fill="#fff" stroke="#00aedb"/>
<line x1="143.5" y1="175" x2="143.5" y2="184" stroke="#00aedb"/>
<rect x="142.5" y="175.5" width="2" height="8" fill="#fff" stroke="#00aedb"/>
<line x1="147.5" y1="168" x2="147.5" y2="204" stroke="#404040"/>
<rect x="146" y="175" width="3" height="18" fill="#404040"/>
<line x1="151.5" y1="188" x2="151.5" y2="207" stroke="#404040"/>
<rect x="150" y="192" width="3" height="10" fill="#404040"/>
<line x1="155.5" y1="187" x2="155.5" y2="207" stroke="#00aedb"/>
<rect x="154.5" y="188.5" width="2" height="13" fill="#fff" stroke="#00aedb"/>
<line x1="159.5" y1="185" x2="159.5" y2="192" stroke="#404040"/>
<rect x="158" y="188" width="3" height="2" fill="#404040"/>
<line x1="163.5" y1="186" x2="163.5" y2="194" stroke="#404040"/>
<rect x="162" y="188" width="3" height="5" fill="#404040"/>
<line x1="167.5" y1="188" x2="167.5" y2="199" stroke="#00aedb"/>
<rect x="166.5" y="190.5" width="2" height="2" fill="#fff" stroke="#00aedb"/>
<line x1="171.5" y1="174" x2="171.5" y2="200" stroke="#404040"/>
<rect x="170" y="191" width="3" height="5" fill="#404040"/>
<line x1="175.5" y1="180" x2="175.5" y2="206" stroke="#404040"/>
<rect x="174" y="194" width="3" height="6" fill="#404040"/>
<line x1="179.5" y1="195" x2="179.5" y2="207" stroke="#00aedb"/>
<rect x="178.5" y="196.5" width="2" height="2" fill="#fff" stroke="#00aedb"/>
<line x1="183.5" y1="193" x2="183.5" y2="202" stroke="#404040"/>
<rect x="182" y="196" width="3" height="4" fill="#404040"/>
<line x1="187.5" y1="193" x2="187.5" y2="200" stroke="#00aedb"/>
<rect x="186.5" y="194.5" width="2" height="4" fill="#fff" stroke="#00aedb"/>
<line x1="191.5" y1="190" x2="191.5" y2="197" stroke="#00aedb"/>
<rect x="190" y="193" width="3" height="2" fill="#00aedb"/>
<line x1="195.5" y1="190" x2="195.5" y2="214" stroke="#404040"/>
<rect x="194" y="193" width="3" height="11" fill="#404040"/>
<line x1="199.5" y1="182" x2="199.5" y2="208" stroke="#00aedb"/>
<rect x="198.5" y="182.5" width="2" height="19" fill="#fff" stroke="#00aedb"/>
<line x1="203.5" y1="176" x2="203.5" y2="184" stroke="#00aedb"/>
<rect x="202.5" y="177.5" width="2" height="6" fill="#fff" stroke="#00aedb"/>
<line x1="207.5" y1="175" x2="207.5" y2="183" stroke="#404040"/>
<rect x="206" y="177" width="3" height="3" fill="#404040"/>
<line x1="211.5" y1="178" x2="211.5" y2="186" stroke="#404040"/>
<rect x="210" y="179" width="3" height="6" fill="#404040"/>
<line x1="215.5" y1="178" x2="215.5" y2="189" stroke="#404040"/>
<rect x="214" y="183" width="3" height="3" fill="#404040"/>
<line x1="219.5" y1="183" x2="219.5" y2="204" stroke="#404040"/>
<rect x="218" y="184" width="3" height="16" fill="#404040"/>
<line x1="223.5" y1="178" x2="223.5" y2="204" stroke="#00aedb"/>
<rect x="222.5" y="179.5" width="2" height="18" fill="#fff" stroke="#00aedb"/>
<line x1="227.5" y1="172" x2="227.5" y2="182" stroke="#404040"/>
<rect x="226" y="180" width="3" height="1" fill="#404040"/>
<line x1="231.5" y1="178" x2="231.5" y2="186" stroke="#00aedb"/>
<rect x="230" y="180" width="3" height="2" fill="#00aedb"/>
<line x1="235.5" y1="174" x2="235.5" y2="181" stroke="#00aedb"/>
<rect x="234.5" y="175.5" width="2" height="4" fill="#fff" stroke="#00aedb"/>
<line x1="239.5" y1="173" x2="239.5" y2="186" stroke="#404040"/>
<rect x="238" y="174" width="3" height="12" fill="#404040"/>
<line x1="243.5" y1="176" x2="243.5" y2="208" stroke="#404040"/>
<rect x="242" y="183" width="3" height="22" fill="#404040"/>
<line x1="247.5" y1="200" x2="247.5" y2="217" stroke="#404040"/>
<rect x="246" y="203" width="3" height="10" fill="#404040"/>
<line x1="251.5" y1="204" x2="251.5" y2="217" stroke="#404040"/>
<rect x="250" y="209" width="3" height="6" fill="#404040"/>
<line x1="255.5" y1="207" x2="255.5" y2="214" stroke="#00aedb"/>
<rect x="254.5" y="208.5" width="2" height="3" fill="#fff" stroke="#00aedb"/>
<line x1="259.5" y1="205" x2="259.5" y2="229" stroke="#404040"/>
<rect x="258" y="209" width="3" height="20" fill="#404040"/>
<line x1="263.5" y1="218" x2="263.5" y2="233" stroke="#00aedb"/>
<rect x="262" y="227" width="3" height="2" fill="#00aedb"/>
<line x1="267.5" y1="224" x2="267.5" y2="241" stroke="#404040"/>
<rect x="266" y="227" width="3" height="11" fill="#404040"/>
<line x1="271.5" y1="235" x2="271.5" y2="267" stroke="#404040"/>
<rect x="270" y="236" width="3" height="30" fill="#404040"/>
<line x1="275.5" y1="256" x2="275.5" y2="297" stroke="#404040"/>
<rect x="274" y="265" width="3" height="29" fill="#404040"/>
<line x1="279.5" y1="262" x2="279.5" y2="299" stroke="#00aedb"/>
<rect x="278.5" y="263.5" width="2" height="30" fill="#fff" stroke="#00aedb"/>
<line x1="283.5" y1="251" x2="283.5" y2="269" stroke="#00aedb"/>
<rect x="282.5" y="252.5" width="2" height="12" fill="#fff" stroke="#00aedb"/>
<line x1="287.5" y1="248" x2="287.5" y2="256" stroke="#00aedb"/>
<rect x="286" y="251" width="3" height="2" fill="#00aedb"/>
<line x1="291.5" y1="235" x2="291.5" y2="253" stroke="#00aedb"/>
<rect x="290.5" y="242.5" width="2" height="10" fill="#fff" stroke="#00aedb"/>
<line x1="295.5" y1="240" x2="295.5" y2="270" stroke="#404040"/>
<rect x="294" y="242" width="3" height="24" fill="#404040"/>
<line x1="299.5" y1="243" x2="299.5" y2="269" stroke="#00aedb"/>
<rect x="298.5" y="252.5" width="2" height="13" fill="#fff" stroke="#00aedb"/>
<line x1="303.5" y1="246" x2="303.5" y2="272" stroke="#404040"/>
<rect x="302" y="252" width="3" height="15" fill="#404040"/>
<line x1="307.5" y1="252" x2="307.5" y2="278" stroke="#00aedb"/>
<rect x="306.5" y="257.5" width="2" height="9" fill="#fff" stroke="#00aedb"/>
<line x1="311.5" y1="247" x2="311.5" y2="263" stroke="#00aedb"/>
<rect x="310.5" y="249.5" width="2" height="10" fill="#fff" stroke="#00aedb"/>
<line x1="315.5" y1="247" x2="315.5" y2="258" stroke="#404040"/>
<rect x="314" y="249" width="3" height="4" fill="#404040"/>
<line x1="319.5" y1="240" x2="319.5" y2="263" stroke="#00aedb"/>
<rect x="318.5" y="242.5" width="2" height="10" fill="#fff" stroke="#00aedb"/>
<line x1="323.5" y1="225" x2="323.5" y2="250" stroke="#404040"/>
<rect x="322" y="241" width="3" height="3" fill="#404040"/>
<line x1="327.5" y1="225" x2="327.5" y2="247" stroke="#00aedb"/>
<rect x="326.5" y="232.5" width="2" height="11" fill="#fff" stroke="#00aedb"/>
<line x1="331.5" y1="226" x2="331.5" y2="234" stroke="#00aedb"/>
<rect x="330.5" y="231.5" width="2" height="2" fill="#fff" stroke="#00aedb"/>
<line x1="335.5" y1="225" x2="335.5" y2="235" stroke="#00aedb"/>
<rect x="334.5" y="226.5" width="2" height="4" fill="#fff" stroke="#00aedb"/>
<line x1="339.5" y1="218" x2="339.5" y2="231" stroke="#00aedb"/>
<rect x="338.5" y="221.5" width="2" height="5" fill="#fff" stroke="#00aedb"/>
<line x1="343.5" y1="205" x2="343.5" y2="235" stroke="#00aedb"/>
<rect x="342.5" y="208.5" width="2" height="14" fill="#fff" stroke="#00aedb"/>
<line x1="347.5" y1="204" x2="347.5" y2="220" stroke="#00aedb"/>
<rect x="346" y="207" width="3" height="2" fill="#00aedb"/>
<line x1="351.5" y1="206" x2="351.5" y2="215" stroke="#404040"/>
<rect x="350" y="207" width="3" height="5" fill="#404040"/>
<line x1="355.5" y1="206" x2="355.5" y2="217" stroke="#404040"/>
<rect x="354" y="210" width="3" height="3" fill="#404040"/>
<line x1="359.5" y1="210" x2="359.5" y2="223" stroke="#404040"/>
<rect x="358" y="211" width="3" height="11" fill="#404040"/>
<line x1="363.5" y1="220" x2="363.5" y2="230" stroke="#404040"/>
<rect x="362" y="220" width="3" height="7" fill="#404040"/>
<line x1="367.5" y1="219" x2="367.5" y2="235" stroke="#404040"/>
<rect x="366" y="225" width="3" height="2" fill="#404040"/>
<line x1="371.5" y1="211" x2="371.5" y2="230" stroke="#00aedb"/>
<rect x="370.5" y="211.5" width="2" height="15" fill="#fff" stroke="#00aedb"/>
<line x1="375.5" y1="206" x2="375.5" y2="217" stroke="#00aedb"/>
<rect x="374.5" y="208.5" width="2" height="3" fill="#fff" stroke="#00aedb"/>
<line x1="379.5" y1="206" x2="379.5" y2="213" stroke="#404040"/>
<rect x="378" y="208" width="3" height="4" fill="#404040"/>
<line x1="383.5" y1="196" x2="383.5" y2="213" stroke="#00aedb"/>
<rect x="382.5" y="197.5" width="2" height="14" fill="#fff" stroke="#00aedb"/>
<line x1="387.5" y1="195" x2="387.5" y2="203" stroke="#404040"/>
<rect x="386" y="197" width="3" height="4" fill="#404040"/>
<line x1="391.5" y1="199" x2="391.5" y2="227" stroke="#404040"/>
<rect x="390" y="200" width="3" height="23" fill="#404040"/>
<line x1="395.5" y1="220" x2="395.5" y2="251" stroke="#404040"/>
<rect x="394" y="222" width="3" height="13" fill="#404040"/>
<line x1="399.5" y1="225" x2="399.5" y2="245" stroke="#00aedb"/>
<rect x="398.5" y="229.5" width="2" height="5" fill="#fff" stroke="#00aedb"/>
<line x1="403.5" y1="224" x2="403.5" y2="239" stroke="#404040"/>
<rect x="402" y="229" width="3" height="9" fill="#404040"/>
<line x1="407.5" y1="231" x2="407.5" y2="242" stroke="#00aedb"/>
<rect x="406.5" y="232.5" width="2" height="5" fill="#fff" stroke="#00aedb"/>
<line x1="411.5" y1="230" x2="411.5" y2="253" stroke="#404040"/>
<rect x="410" y="232" width="3" height="21" fill="#404040"/>
<line x1="415.5" y1="249" x2="415.5" y2="278" stroke="#404040"/>
<rect x="414" y="251" width="3" height="25" fill="#404040"/>
<line x1="419.5" y1="257" x2="419.5" y2="296" stroke="#404040"/>
<rect x="418" y="274" width="3" height="20" fill="#404040"/>
<line x1="423.5" y1="287" x2="423.5" y2="309" stroke="#00aedb"/>
<rect x="422.5" y="290.5" width="2" height="3" fill="#fff" stroke="#00aedb"/>
<line x1="427.5" y1="285" x2="427.5" y2="309" stroke="#404040"/>
<rect x="426" y="290" width="3" height="14" fill="#404040"/>
<line x1="431.5" y1="288" x2="431.5" y2="307" stroke="#00aedb"/>
<rect x="430.5" y="291.5" width="2" height="12" fill="#fff" stroke="#00aedb"/>
<line x1="435.5" y1="286" x2="435.5" y2="296" stroke="#00aedb"/>
<rect x="434.5" y="287.5" width="2" height="5" fill="#fff" stroke="#00aedb"/>
<line x1="439.5" y1="276" x2="439.5" y2="292" stroke="#00aedb"/>
<rect x="438.5" y="282.5" width="2" height="6" fill="#fff" stroke="#00aedb"/>
<line x1="443.5" y1="279" x2="443.5" y2="302" stroke="#404040"/>
<rect x="442" y="282" width="3" height="4" fill="#404040"/>
<line x1="447.5" y1="283" x2="447.5" y2="314" stroke="#404040"/>
<rect x="446" y="284" width="3" height="8" fill="#404040"/>
<line x1="451.5" y1="289" x2="451.5" y2="314" stroke="#404040"/>
<rect x="450" y="290" width="3" height="16" fill="#404040"/>
<line x1="455.5" y1="292" x2="455.5" y2="306" stroke="#00aedb"/>
<rect x="454.5" y="294.5" width="2" height="11" fill="#fff" stroke="#00aedb"/>
<line x1="459.5" y1="284" x2="459.5" y2="297" stroke="#00aedb"/>
<rect x="458.5" y="289.5" width="2" height="6" fill="#fff" stroke="#00aedb"/>
<line x1="463.5" y1="283" x2="463.5" y2="302" stroke="#404040"/>
<rect x="462" y="289" width="3" height="11" fill="#404040"/>
<line x1="467.5" y1="290" x2="467.5" y2="305" stroke="#404040"/>
<rect x="466" y="298" width="3" height="4" fill="#404040"/>
<line x1="471.5" y1="291" x2="471.5" y2="320" stroke="#404040"/>
<rect x="470" y="300" width="3" height="4" fill="#404040"/>
<line x1="475.5" y1="294" x2="475.5" y2="322" stroke="#404040"/>
<rect x="474" y="302" width="3" height="14" fill="#404040"/>
<line x1="479.5" y1="310" x2="479.5" y2="339" stroke="#404040"/>
<rect x="478" y="314" width="3" height="21" fill="#404040"/>
<line x1="483.5" y1="326" x2="483.5" y2="343" stroke="#404040"/>
<rect x="482" y="333" width="3" height="4" fill="#404040"/>
<line x1="487.5" y1="325" x2="487.5" y2="342" stroke="#00aedb"/>
<rect x="486.5" y="325.5" width="2" height="10" fill="#fff" stroke="#00aedb"/>
<line x1="491.5" y1="308" x2="491.5" y2="345" stroke="#404040"/>
<rect x="490" y="325" width="3" height="6" fill="#404040"/>
<line x1="495.5" y1="299" x2="495.5" y2="337" stroke="#00aedb"/>
<rect x="494.5" y="301.5" width="2" height="29" fill="#fff" stroke="#00aedb"/>
<line x1="499.5" y1="295" x2="499.5" y2="307" stroke="#404040"/>
<rect x="498" y="301" width="3" height="2" fill="#404040"/>
<line x1="503.5" y1="292" x2="503.5" y2="304" stroke="#00aedb"/>
<rect x="502.5" y="294.5" width="2" height="7" fill="#fff" stroke="#00aedb"/>
<line x1="507.5" y1="292" x2="507.5" y2="316" stroke="#404040"/>
<rect x="506" y="294" width="3" height="17" fill="#404040"/>
<line x1="511.5" y1="306" x2="511.5" y2="325" stroke="#404040"/>
<rect x="510" y="309" width="3" height="11" fill="#404040"/>
<line x1="515.5" y1="312" x2="515.5" y2="329" stroke="#00aedb"/>
<rect x="514.5" y="315.5" width="2" height="4" fill="#fff" stroke="#00aedb"/>
<line x1="519.5" y1="309" x2="519.5" y2="368" stroke="#404040"/>
<rect x="518" y="315" width="3" height="46" fill="#404040"/>
<line x1="523.5" y1="353" x2="523.5" y2="374" stroke="#00aedb"/>
<rect x="522" y="358" width="3" height="2" fill="#00aedb"/>
<line x1="527.5" y1="348" x2="527.5" y2="369" stroke="#00aedb"/>
<rect x="526.5" y="349.5" width="2" height="10" fill="#fff" stroke="#00aedb"/>
<line x1="531.5" y1="347" x2="531.5" y2="367" stroke="#404040"/>
<rect x="530" y="349" width="3" height="2" fill="#404040"/>
<line x1="535.5" y1="346" x2="535.5" y2="360" stroke="#404040"/>
<rect x="534" y="349" width="3" height="3" fill="#404040"/>
<line x1="539.5" y1="341" x2="539.5" y2="357" stroke="#00aedb"/>
<rect x="538.5" y="347.5" width="2" height="4" fill="#fff" stroke="#00aedb"/>
<line x1="543.5" y1="318" x2="543.5" y2="352" stroke="#00aedb"/>
<rect x="542.5" y="319.5" width="2" height="29" fill="#fff" stroke="#00aedb"/>
<line x1="547.5" y1="306" x2="547.5" y2="323" stroke="#00aedb"/>
<rect x="546.5" y="309.5" width="2" height="10" fill="#fff" stroke="#00aedb"/>
<line x1="551.5" y1="307" x2="551.5" y2="326" stroke="#404040"/>
<rect x="550" y="309" width="3" height="13" fill="#404040"/>
<line x1="555.5" y1="320" x2="555.5" y2="342" stroke="#404040"/>
<rect x="554" y="321" width="3" height="18" fill="#404040"/>
<line x1="559.5" y1="333" x2="559.5" y2="344" stroke="#00aedb"/>
<rect x="558.5" y="335.5" width="2" height="3" fill="#fff" stroke="#00aedb"/>
<line x1="563.5" y1="335" x2="563.5" y2="364" stroke="#404040"/>
<rect x="562" y="335" width="3" height="25" fill="#404040"/>
<line x1="567.5" y1="317" x2="567.5" y2="361" stroke="#00aedb"/>
<rect x="566.5" y="322.5" width="2" height="37" fill="#fff" stroke="#00aedb"/>
<line x1="571.5" y1="306" x2="571.5" y2="340" stroke="#00aedb"/>
<rect x="570.5" y="311.5" width="2" height="11" fill="#fff" stroke="#00aedb"/>
<line x1="575.5" y1="296" x2="575.5" y2="320" stroke="#00aedb"/>
<rect x="574.5" y="297.5" width="2" height="13" fill="#fff" stroke="#00aedb"/>
<line x1="579.5" y1="283" x2="579.5" y2="301" stroke="#00aedb"/>
<rect x="578.5" y="284.5" width="2" height="15" fill="#fff" stroke="#00aedb"/>
<line x1="583.5" y1="280" x2="583.5" y2="294" stroke="#00aedb"/>
<rect x="582" y="283" width="3" height="2" fill="#00aedb"/>
<line x1="587.5" y1="279" x2="587.5" y2="288" stroke="#00aedb"/>
<rect x="586.5" y="280.5" width="2" height="4" fill="#fff" stroke="#00aedb"/>
<line x1="591.5" y1="264" x2="591.5" y2="290" stroke="#00aedb"/>
<rect x="590.5" y="267.5" width="2" height="13" fill="#fff" stroke="#00aedb"/>
<line x1="595.5" y1="264" x2="595.5" y2="281" stroke="#404040"/>
<rect x="594" y="267" width="3" height="11" fill="#404040"/>
<line x1="599.5" y1="272" x2="599.5" y2="288" stroke="#404040"/>
<rect x="598" y="276" width="3" height="7" fill="#404040"/>
<line x1="603.5" y1="275" x2="603.5" y2="287" stroke="#00aedb"/>
<rect x="602.5" y="278.5" width="2" height="3" fill="#fff" stroke="#00aedb"/>
<line x1="607.5" y1="278" x2="607.5" y2="291" stroke="#404040"/>
<rect x="606" y="278" width="3" height="8" fill="#404040"/>
<line x1="611.5" y1="279" x2="611.5" y2="294" stroke="#404040"/>
<rect x="610" y="284" width="3" height="3" fill="#404040"/>
<line x1="615.5" y1="264" x2="615.5" y2="296" stroke="#404040"/>
<rect x="614" y="285" width="3" height="6" fill="#404040"/>
<line x1="619.5" y1="285" x2="619.5" y2="301" stroke="#404040"/>
<rect x="618" y="289" width="3" height="2" fill="#404040"/>
<line x1="623.5" y1="287" x2="623.5" y2="301" stroke="#404040"/>
<rect x="622" y="289" width="3" height="10" fill="#404040"/>
<line x1="627.5" y1="294" x2="627.5" y2="308" stroke="#404040"/>
<rect x="626" y="295" width="3" height="12" fill="#404040"/>
<line x1="631.5" y1="302" x2="631.5" y2="316" stroke="#404040"/>
<rect x="630" y="305" width="3" height="6" fill="#404040"/>
<line x1="635.5" y1="298" x2="635.5" y2="314" stroke="#00aedb"/>
<rect x="634" y="307" width="3" height="2" fill="#00aedb"/>
<line x1="639.5" y1="302" x2="639.5" y2="314" stroke="#00aedb"/>
<rect x="638.5" y="305.5" width="2" height="2" fill="#fff" stroke="#00aedb"/>
<line x1="643.5" y1="281" x2="643.5" y2="319" stroke="#00aedb"/>
<rect x="642.5" y="287.5" width="2" height="30" fill="#fff" stroke="#00aedb"/>
<line x1="647.5" y1="283" x2="647.5" y2="307" stroke="#404040"/>
<rect x="646" y="287" width="3" height="12" fill="#404040"/>
<line x1="651.5" y1="297" x2="651.5" y2="322" stroke="#404040"/>
<rect x="650" y="298" width="3" height="24" fill="#404040"/>
<line x1="655.5" y1="316" x2="655.5" y2="336" stroke="#404040"/>
<rect x="654" y="320" width="3" height="5" fill="#404040"/>
<line x1="659.5" y1="322" x2="659.5" y2="334" stroke="#404040"/>
<rect x="658" y="324" width="3" height="10" fill="#404040"/>
<line x1="663.5" y1="307" x2="663.5" y2="336" stroke="#00aedb"/>
<rect x="662.5" y="307.5" width="2" height="26" fill="#fff" stroke="#00aedb"/>
<line x1="667.5" y1="301" x2="667.5" y2="328" stroke="#404040"/>
<rect x="666" y="307" width="3" height="21" fill="#404040"/>
<line x1="671.5" y1="309" x2="671.5" y2="328" stroke="#00aedb"/>
<rect x="670.5" y="321.5" width="2" height="6" fill="#fff" stroke="#00aedb"/>
<line x1="675.5" y1="318" x2="675.5" y2="337" stroke="#404040"/>
<rect x="674" y="320" width="3" height="14" fill="#404040"/>
<line x1="679.5" y1="324" x2="679.5" y2="334" stroke="#404040"/>
<rect x="678" y="331" width="3" height="2" fill="#404040"/>
<line x1="683.5" y1="325" x2="683.5" y2="333" stroke="#00aedb"/>
<rect x="682.5" y="327.5" width="2" height="4" fill="#fff" stroke="#00aedb"/>
<line x1="687.5" y1="307" x2="687.5" y2="335" stroke="#00aedb"/>
<rect x="686.5" y="313.5" width="2" height="13" fill="#fff" stroke="#00aedb"/>
<line x1="691.5" y1="301" x2="691.5" y2="326" stroke="#404040"/>
<rect x="690" y="313" width="3" height="5" fill="#404040"/>
<line x1="695.5" y1="299" x2="695.5" y2="324" stroke="#00aedb"/>
<rect x="694.5" y="307.5" width="2" height="9" fill="#fff" stroke="#00aedb"/>
<line x1="699.5" y1="298" x2="699.5" y2="312" stroke="#00aedb"/>
<rect x="698.5" y="299.5" width="2" height="10" fill="#fff" stroke="#00aedb"/>
<line x1="703.5" y1="292" x2="703.5" y2="302" stroke="#00aedb"/>
<rect x="702.5" y="295.5" width="2" height="4" fill="#fff" stroke="#00aedb"/>
<line x1="707.5" y1="284" x2="707.5" y2="297" stroke="#00aedb"/>
<rect x="706.5" y="285.5" width="2" height="10" fill="#fff" stroke="#00aedb"/>
<line x1="711.5" y1="281" x2="711.5" y2="291" stroke="#404040"/>
<rect x="710" y="285" width="3" height="2" fill="#404040"/>
<line x1="715.5" y1="264" x2="715.5" y2="277" stroke="#00aedb"/>
<rect x="714.5" y="266.5" width="2" height="9" fill="#fff" stroke="#00aedb"/>
<line x1="719.5" y1="256" x2="719.5" y2="269" stroke="#00aedb"/>
<rect x="718.5" y="257.5" width="2" height="10" fill="#fff" stroke="#00aedb"/>
<line x1="723.5" y1="251" x2="723.5" y2="263" stroke="#00aedb"/>
<rect x="722.5" y="252.5" width="2" height="7" fill="#fff" stroke="#00aedb"/>
<line x1="727.5" y1="248" x2="727.5" y2="262" stroke="#00aedb"/>
<rect x="726.5" y="249.5" width="2" height="4" fill="#fff" stroke="#00aedb"/>
<line x1="731.5" y1="244" x2="731.5" y2="254" stroke="#404040"/>
<rect x="730" y="248" width="3" height="2" fill="#404040"/>
<line x1="735.5" y1="248" x2="735.5" y2="259" stroke="#404040"/>
<rect x="734" y="250" width="3" height="2" fill="#404040"/>
<line x1="739.5" y1="244" x2="739.5" y2="257" stroke="#00aedb"/>
<rect x="738.5" y="244.5" width="2" height="6" fill="#fff" stroke="#00aedb"/>
<line x1="743.5" y1="243" x2="743.5" y2="254" stroke="#00aedb"/>
<rect x="742" y="244" width="3" height="1" fill="#00aedb"/>
<line x1="747.5" y1="239" x2="747.5" y2="250" stroke="#00aedb"/>
<rect x="746.5" y="240.5" width="2" height="4" fill="#fff" stroke="#00aedb"/>
<line x1="751.5" y1="235" x2="751.5" y2="247" stroke="#404040"/>
<rect x="750" y="237" width="3" height="9" fill="#404040"/>
<line x1="755.5" y1="243" x2="755.5" y2="252" stroke="#404040"/>
<rect x="754" y="244" width="3" height="3" fill="#404040"/>
<line x1="759.5" y1="246" x2="759.5" y2="256" stroke="#404040"/>
<rect x="758" y="246" width="3" height="7" fill="#404040"/>
<line x1="763.5" y1="247" x2="763.5" y2="259" stroke="#00aedb"/>
<rect x="762" y="252" width="3" height="1" fill="#00aedb"/>
<line x1="767.5" y1="234" x2="767.5" y2="255" stroke="#00aedb"/>
<rect x="766.5" y="234.5" width="2" height="18" fill="#fff" stroke="#00aedb"/>
<line x1="771.5" y1="217" x2="771.5" y2="236" stroke="#00aedb"/>
<rect x="770.5" y="217.5" width="2" height="17" fill="#fff" stroke="#00aedb"/>
<line x1="775.5" y1="212" x2="775.5" y2="219" stroke="#00aedb"/>
<rect x="774.5" y="216.5" width="2" height="2" fill="#fff" stroke="#00aedb"/>
<line x1="779.5" y1="209" x2="779.5" y2="218" stroke="#00aedb"/>
<rect x="778.5" y="213.5" width="2" height="3" fill="#fff" stroke="#00aedb"/>
<line x1="783.5" y1="206" x2="783.5" y2="216" stroke="#00aedb"/>
<rect x="782.5" y="207.5" width="2" height="7" fill="#fff" stroke="#00aedb"/>
<line x1="787.5" y1="202" x2="787.5" y2="214" stroke="#00aedb"/>
<rect x="786.5" y="204.5" width="2" height="3" fill="#fff" stroke="#00aedb"/>
<line x1="791.5" y1="198" x2="791.5" y2="213" stroke="#00aedb"/>
<rect x="790.5" y="198.5" width="2" height="5" fill="#fff" stroke="#00aedb"/>
<line x1="795.5" y1="194" x2="795.5" y2="203" stroke="#00aedb"/>
<rect x="794" y="198" width="3" height="2" fill="#00aedb"/>
<line x1="799.5" y1="189" x2="799.5" y2="200" stroke="#00aedb"/>
<rect x="798.5" y="194.5" width="2" height="5" fill="#fff" stroke="#00aedb"/>
<line x1="803.5" y1="192" x2="803.5" y2="202" stroke="#404040"/>
<rect x="802" y="194" width="3" height="6" fill="#404040"/>
<line x1="807.5" y1="197" x2="807.5" y2="202" stroke="#404040"/>
<rect x="806" y="198" width="3" height="2" fill="#404040"/>
<line x1="811.5" y1="192" x2="811.5" y2="200" stroke="#00aedb"/>
<rect x="810.5" y="193.5" width="2" height="6" fill="#fff" stroke="#00aedb"/>
<line x1="815.5" y1="186" x2="815.5" y2="200" stroke="#404040"/>
<rect x="814" y="193" width="3" height="2" fill="#404040"/>
<line x1="819.5" y1="190" x2="819.5" y2="210" stroke="#404040"/>
<rect x="818" y="194" width="3" height="6" fill="#404040"/>
<line x1="823.5" y1="197" x2="823.5" y2="205" stroke="#404040"/>
<rect x="822" y="199" width="3" height="6" fill="#404040"/>
<line x1="827.5" y1="200" x2="827.5" y2="208" stroke="#00aedb"/>
<rect x="826" y="202" width="3" height="2" fill="#00aedb"/>
<line x1="831.5" y1="202" x2="831.5" y2="213" stroke="#404040"/>
<rect x="830" y="202" width="3" height="10" fill="#404040"/>
<line x1="835.5" y1="201" x2="835.5" y2="214" stroke="#00aedb"/>
<rect x="834.5" y="204.5" width="2" height="7" fill="#fff" stroke="#00aedb"/>
<line x1="839.5" y1="187" x2="839.5" y2="211" stroke="#00aedb"/>
<rect x="838.5" y="189.5" width="2" height="16" fill="#fff" stroke="#00aedb"/>
<line x1="843.5" y1="186" x2="843.5" y2="196" stroke="#00aedb"/>
<rect x="842.5" y="187.5" width="2" height="2" fill="#fff" stroke="#00aedb"/>
<line x1="847.5" y1="180" x2="847.5" y2="202" stroke="#404040"/>
<rect x="846" y="187" width="3" height="9" fill="#404040"/>
<line x1="851.5" y1="192" x2="851.5" y2="198" stroke="#404040"/>
<rect x="850" y="194" width="3" height="2" fill="#404040"/>
<line x1="855.5" y1="192" x2="855.5" y2="197" stroke="#00aedb"/>
<rect x="854" y="193" width="3" height="2" fill="#00aedb"/>
<line x1="859.5" y1="185" x2="859.5" y2="196" stroke="#00aedb"/>
<rect x="858.5" y="186.5" width="2" height="6" fill="#fff" stroke="#00aedb"/>
<line x1="863.5" y1="183" x2="863.5" y2="199" stroke="#404040"/>
<rect x="862" y="186" width="3" height="8" fill="#404040"/>
<line x1="867.5" y1="192" x2="867.5" y2="217" stroke="#404040"/>
<rect x="866" y="194" width="3" height="12" fill="#404040"/>
<line x1="871.5" y1="201" x2="871.5" y2="210" stroke="#404040"/>
<rect x="870" y="204" width="3" height="6" fill="#404040"/>
<line x1="875.5" y1="205" x2="875.5" y2="214" stroke="#404040"/>
<rect x="874" y="207" width="3" height="3" fill="#404040"/>
<line x1="879.5" y1="205" x2="879.5" y2="214" stroke="#00aedb"/>
<rect x="878.5" y="206.5" width="2" height="2" fill="#fff" stroke="#00aedb"/>
<line x1="883.5" y1="196" x2="883.5" y2="208" stroke="#00aedb"/>
<rect x="882.5" y="197.5" width="2" height="8" fill="#fff" stroke="#00aedb"/>
<line x1="887.5" y1="196" x2="887.5" y2="202" stroke="#404040"/>
<rect x="886" y="197" width="3" height="2" fill="#404040"/>
<line x1="891.5" y1="188" x2="891.5" y2="206" stroke="#00aedb"/>
<rect x="890.5" y="192.5" width="2" height="6" fill="#fff" stroke="#00aedb"/>
<line x1="895.5" y1="170" x2="895.5" y2="197" stroke="#00aedb"/>
<rect x="894.5" y="174.5" width="2" height="20" fill="#fff" stroke="#00aedb"/>
<line x1="899.5" y1="169" x2="899.5" y2="187" stroke="#00aedb"/>
<rect x="898" y="173" width="3" height="2" fill="#00aedb"/>
<line x1="903.5" y1="163" x2="903.5" y2="175" stroke="#00aedb"/>
<rect x="902.5" y="164.5" width="2" height="9" fill="#fff" stroke="#00aedb"/>
<line x1="907.5" y1="161" x2="907.5" y2="168" stroke="#00aedb"/>
<rect x="906.5" y="162.5" width="2" height="2" fill="#fff" stroke="#00aedb"/>
<line x1="911.5" y1="158" x2="911.5" y2="166" stroke="#00aedb"/>
<rect x="910.5" y="162.5" width="2" height="2" fill="#fff" stroke="#00aedb"/>
<line x1="915.5" y1="142" x2="915.5" y2="166" stroke="#00aedb"/>
<rect x="914.5" y="148.5" width="2" height="15" fill="#fff" stroke="#00aedb"/>
<line x1="919.5" y1="146" x2="919.5" y2="179" stroke="#404040"/>
<rect x="918" y="148" width="3" height="17" fill="#404040"/>
<line x1="923.5" y1="161" x2="923.5" y2="175" stroke="#404040"/>
<rect x="922" y="164" width="3" height="5" fill="#404040"/>
<line x1="927.5" y1="165" x2="927.5" y2="175" stroke="#404040"/>
<rect x="926" y="167" width="3" height="7" fill="#404040"/>
<line x1="931.5" y1="164" x2="931.5" y2="174" stroke="#00aedb"/>
<rect x="930.5" y="166.5" width="2" height="6" fill="#fff" stroke="#00aedb"/>
<line x1="935.5" y1="162" x2="935.5" y2="178" stroke="#404040"/>
<rect x="934" y="167" width="3" height="10" fill="#404040"/>
<line x1="939.5" y1="149" x2="939.5" y2="177" stroke="#00aedb"/>
<rect x="938.5" y="156.5" width="2" height="20" fill="#fff" stroke="#00aedb"/>
<line x1="943.5" y1="140" x2="943.5" y2="158" stroke="#00aedb"/>
<rect x="942.5" y="145.5" width="2" height="12" fill="#fff" stroke="#00aedb"/>
<line x1="947.5" y1="144" x2="947.5" y2="165" stroke="#404040"/>
<rect x="946" y="146" width="3" height="12" fill="#404040"/>
<line x1="951.5" y1="155" x2="951.5" y2="163" stroke="#404040"/>
<rect x="950" y="157" width="3" height="2" fill="#404040"/>
<line x1="955.5" y1="155" x2="955.5" y2="163" stroke="#404040"/>
<rect x="954" y="158" width="3" height="5" fill="#404040"/>
<line x1="959.5" y1="147" x2="959.5" y2="163" stroke="#00aedb"/>
<rect x="958.5" y="147.5" width="2" height="14" fill="#fff" stroke="#00aedb"/>
<line x1="963.5" y1="134" x2="963.5" y2="156" stroke="#00aedb"/>
<rect x="962.5" y="141.5" width="2" height="7" fill="#fff" stroke="#00aedb"/>
<line x1="967.5" y1="132" x2="967.5" y2="147" stroke="#00aedb"/>
<rect x="966.5" y="135.5" width="2" height="6" fill="#fff" stroke="#00aedb"/>
<line x1="971.5" y1="130" x2="971.5" y2="157" stroke="#404040"/>
<rect x="970" y="135" width="3" height="15" fill="#404040"/>
<line x1="975.5" y1="146" x2="975.5" y2="154" stroke="#404040"/>
<rect x="974" y="148" width="3" height="4" fill="#404040"/>
<line x1="979.5" y1="147" x2="979.5" y2="158" stroke="#404040"/>
<rect x="978" y="150" width="3" height="5" fill="#404040"/>
<line x1="983.5" y1="149" x2="983.5" y2="161" stroke="#404040"/>
<rect x="982" y="152" width="3" height="6" fill="#404040"/>
<line x1="987.5" y1="141" x2="987.5" y2="161" stroke="#00aedb"/>
<rect x="986.5" y="144.5" width="2" height="13" fill="#fff" stroke="#00aedb"/>
<line x1="991.5" y1="124" x2="991.5" y2="146" stroke="#00aedb"/>
<rect x="990.5" y="128.5" width="2" height="16" fill="#fff" stroke="#00aedb"/>
<line x1="995.5" y1="115" x2="995.5" y2="132" stroke="#00aedb"/>
<rect x="994.5" y="115.5" width="2" height="14" fill="#fff" stroke="#00aedb"/>
<line x1="999.5" y1="110" x2="999.5" y2="115" stroke="#404040"/>
<rect x="998" y="110" width="3" height="5" fill="#404040"/>
<line x1="1003.5" y1="107" x2="1003.5" y2="118" stroke="#00aedb"/>
<rect x="1002" y="112" width="3" height="2" fill="#00aedb"/>
<line x1="1007.5" y1="110" x2="1007.5" y2="118" stroke="#404040"/>
<rect x="1006" y="112" width="3" height="3" fill="#404040"/>
<line x1="1011.5" y1="106" x2="1011.5" y2="116" stroke="#00aedb"/>
<rect x="1010.5" y="106.5" width="2" height="8" fill="#fff" stroke="#00aedb"/>
<line x1="1015.5" y1="106" x2="1015.5" y2="132" stroke="#404040"/>
<rect x="1014" y="107" width="3" height="19" fill="#404040"/>
<line x1="1019.5" y1="113" x2="1019.5" y2="129" stroke="#00aedb"/>
<rect x="1018.5" y="121.5" width="2" height="4" fill="#fff" stroke="#00aedb"/>
<line x1="1023.5" y1="109" x2="1023.5" y2="124" stroke="#00aedb"/>
<rect x="1022.5" y="110.5" width="2" height="12" fill="#fff" stroke="#00aedb"/>
<line x1="1027.5" y1="110" x2="1027.5" y2="117" stroke="#404040"/>
<rect x="1026" y="111" width="3" height="6" fill="#404040"/>
<line x1="1031.5" y1="109" x2="1031.5" y2="118" stroke="#00aedb"/>
<rect x="1030.5" y="110.5" width="2" height="5" fill="#fff" stroke="#00aedb"/>
<line x1="1035.5" y1="109" x2="1035.5" y2="117" stroke="#404040"/>
<rect x="1034" y="111" width="3" height="5" fill="#404040"/>
<line x1="1039.5" y1="96" x2="1039.5" y2="116" stroke="#00aedb"/>
<rect x="1038.5" y="99.5" width="2" height="16" fill="#fff" stroke="#00aedb"/>
<line x1="1043.5" y1="93" x2="1043.5" y2="109" stroke="#404040"/>
<rect x="1042" y="99" width="3" height="2" fill="#404040"/>
<line x1="1047.5" y1="95" x2="1047.5" y2="103" stroke="#404040"/>
<rect x="1046" y="100" width="3" height="2" fill="#404040"/>
<line x1="1051.5" y1="95" x2="1051.5" y2="104" stroke="#00aedb"/>
<rect x="1050.5" y="98.5" width="2" height="4" fill="#fff" stroke="#00aedb"/>
<line x1="1055.5" y1="97" x2="1055.5" y2="102" stroke="#404040"/>
<rect x="1054" y="98" width="3" height="2" fill="#404040"/>
</g>
<line x1="51" y1="144.8" x2="1192" y2="318" stroke="#00aedb" stroke-width="2" shape-rendering="crispEdges"/>
<line x1="667" y1="346" x2="1223" y2="19.5" stroke="#00aedb" stroke-width="2" shape-rendering="crispEdges"/>
<path d="M1053,88.4 L1063.3,88.4 C1072,75 1079,54 1087.4,54.1 C1096,54 1104,79 1113.7,79 C1124,79 1133,50 1143,20" fill="none" stroke="#00aedb" stroke-width="3.2"/>
<polygon points="1146.8,8.7 1135.5,19.5 1148.6,23.8" fill="#00aedb"/>
<path d="M1098.5,183 L1106.6,183 C1113,190 1120,211.6 1128.5,211.6 C1140,211.6 1150,180.6 1162.2,180.6 C1176,180.6 1195,235 1208,268" fill="none" stroke="#404040" stroke-width="3"/>
<polygon points="1211.8,276.8 1200.7,266.3 1214,261.8" fill="#404040"/>
<text x="1056.5" y="46.6" fill="#00aedb" font-size="14" font-weight="bold" >16250</text>
<text x="1157" y="20.3" fill="#00aedb" font-size="14" font-weight="bold" >16500</text>
<text x="1146.8" y="89.5" fill="#00aedb" font-size="14" font-weight="bold" >16000</text>
<text x="1085.5" y="126.5" fill="#00aedb" font-size="14" font-weight="bold" >15780</text>
<text x="1140.8" y="158.7" fill="#404040" font-size="14" font-weight="bold" >15600</text>
<text x="1190.7" y="191.8" fill="#404040" font-size="14" font-weight="bold" >15500</text>
<text x="1204.9" y="224.8" fill="#404040" font-size="14" font-weight="bold" >15305</text>
<text x="1220.8" y="254.9" fill="#404040" font-size="14" font-weight="bold" >15050</text>
<text x="1196.8" y="293.4" fill="#404040" font-size="14" font-weight="bold" >14915</text>
<text x="550.4" y="243" fill="#000" font-size="14" font-weight="bold" >200-EMA</text>
<text x="453.6" y="272.9" fill="#e8141c" font-size="14" font-weight="bold" >50-EMA</text>
<text x="521.6" y="273.4" fill="#1e9e32" font-size="14" font-weight="bold" >100-EMA</text>
<g stroke="#a0a0a0" stroke-width="1" stroke-dasharray="3 3" shape-rendering="crispEdges">
<line x1="4" y1="488.5" x2="1604" y2="488.5"/>
<line x1="4" y1="507.5" x2="1604" y2="507.5"/>
<line x1="4" y1="527.5" x2="1604" y2="527.5"/>
</g>
<polyline points="3.5,496.5 7.5,495.5 11.5,496.5 15.5,492.5 19.5,492.5 23.5,489.5 27.5,490.5 31.5,493.5 35.5,496.5 39.5,494.5 43.5,508.5 47.5,501.5 51.5,498.5 55.5,502.5 59.5,500.5 63.5,504.5 67.5,505.5 71.5,521.5 75.5,512.5 79.5,513.5 83.5,513.5 87.5,517.5 91.5,514.5 95.5,505.5 99.5,511.5 103.5,515.5 107.5,513.5 111.5,511.5 115.5,507.5 119.5,509.5 123.5,515.5 127.5,524.5 131.5,520.5 135.5,522.5 139.5,517.5 143.5,512.5 147.5,520.5 151.5,523.5 155.5,515.5 159.5,516.5 163.5,517.5 167.5,516.5 171.5,517.5 175.5,520.5 179.5,519.5 183.5,519.5 187.5,516.5 191.5,515.5 195.5,520.5 199.5,507.5 203.5,504.5 207.5,505.5 211.5,507.5 215.5,508.5 219.5,516.5 223.5,505.5 227.5,505.5 231.5,504.5 235.5,502.5 239.5,507.5 243.5,517.5 247.5,519.5 251.5,522.5 255.5,518.5 259.5,525.5 263.5,524.5 267.5,526.5 271.5,534.5 275.5,538.5 279.5,523.5 283.5,519.5 287.5,519.5 291.5,515.5 295.5,521.5 299.5,516.5 303.5,520.5 307.5,516.5 311.5,513.5 315.5,514.5 319.5,510.5 323.5,511.5 327.5,507.5 331.5,506.5 335.5,504.5 339.5,503.5 343.5,498.5 347.5,498.5 351.5,500.5 355.5,500.5 359.5,505.5 363.5,507.5 367.5,507.5 371.5,501.5 375.5,500.5 379.5,501.5 383.5,496.5 387.5,497.5 391.5,509.5 395.5,513.5 399.5,511.5 403.5,514.5 407.5,512.5 411.5,519.5 415.5,525.5 419.5,529.5 423.5,528.5 427.5,530.5 431.5,524.5 435.5,523.5 439.5,520.5 443.5,521.5 447.5,523.5 451.5,526.5 455.5,521.5 459.5,518.5 463.5,521.5 467.5,522.5 471.5,522.5 475.5,526.5 479.5,531.5 483.5,531.5 487.5,525.5 491.5,526.5 495.5,512.5 499.5,512.5 503.5,509.5 507.5,513.5 511.5,517.5 515.5,516.5 519.5,527.5 523.5,526.5 527.5,522.5 531.5,522.5 535.5,523.5 539.5,520.5 543.5,508.5 547.5,505.5 551.5,509.5 555.5,515.5 559.5,514.5 563.5,520.5 567.5,508.5 571.5,505.5 575.5,500.5 579.5,498.5 583.5,498.5 587.5,497.5 591.5,494.5 595.5,498.5 599.5,500.5 603.5,499.5 607.5,501.5 611.5,502.5 615.5,503.5 619.5,504.5 623.5,507.5 627.5,510.5 631.5,512.5 635.5,511.5 639.5,510.5 643.5,502.5 647.5,507.5 651.5,515.5 655.5,517.5 659.5,518.5 663.5,508.5 667.5,514.5 671.5,512.5 675.5,515.5 679.5,516.5 683.5,514.5 687.5,508.5 691.5,509.5 695.5,505.5 699.5,502.5 703.5,500.5 707.5,498.5 711.5,498.5 715.5,492.5 719.5,490.5 723.5,489.5 727.5,488.5 731.5,488.5 735.5,489.5 739.5,487.5 743.5,487.5 747.5,486.5 751.5,489.5 755.5,491.5 759.5,495.5 763.5,495.5 767.5,488.5 771.5,484.5 775.5,483.5 779.5,483.5 783.5,481.5 787.5,480.5 791.5,479.5 795.5,479.5 799.5,478.5 803.5,482.5 807.5,483.5 811.5,481.5 815.5,482.5 819.5,487.5 823.5,492.5 827.5,491.5 831.5,498.5 835.5,495.5 839.5,489.5 843.5,488.5 847.5,494.5 851.5,494.5 855.5,493.5 859.5,490.5 863.5,497.5 867.5,504.5 871.5,507.5 875.5,508.5 879.5,506.5 883.5,500.5 887.5,501.5 891.5,497.5 895.5,489.5 899.5,487.5 903.5,485.5 907.5,485.5 911.5,485.5 915.5,480.5 919.5,493.5 923.5,495.5 927.5,499.5 931.5,496.5 935.5,502.5 939.5,494.5 943.5,491.5 947.5,498.5 951.5,498.5 955.5,500.5 959.5,494.5 963.5,492.5 967.5,491.5 971.5,497.5 975.5,499.5 979.5,501.5 983.5,503.5 987.5,498.5 991.5,492.5 995.5,488.5 999.5,488.5 1003.5,487.5 1007.5,488.5 1011.5,486.5 1015.5,498.5 1019.5,497.5 1023.5,493.5 1027.5,496.5 1031.5,494.5 1035.5,497.5 1039.5,491.5 1043.5,492.5 1047.5,493.5 1051.5,491.5 1055.5,492.5" fill="none" stroke="#00aedb" stroke-width="1" shape-rendering="crispEdges"/>
<g stroke="#00aedb" stroke-width="1" shape-rendering="crispEdges">
<line x1="3.5" y1="592" x2="3.5" y2="603"/>
<line x1="7.5" y1="593" x2="7.5" y2="603"/>
<line x1="11.5" y1="592" x2="11.5" y2="603"/>
<line x1="15.5" y1="592" x2="15.5" y2="603"/>
<line x1="19.5" y1="592" x2="19.5" y2="603"/>
<line x1="23.5" y1="592" x2="23.5" y2="603"/>
<line x1="27.5" y1="592" x2="27.5" y2="603"/>
<line x1="31.5" y1="592" x2="31.5" y2="603"/>
<line x1="35.5" y1="592" x2="35.5" y2="603"/>
<line x1="39.5" y1="592" x2="39.5" y2="603"/>
<line x1="43.5" y1="595" x2="43.5" y2="603"/>
<line x1="47.5" y1="595" x2="47.5" y2="603"/>
<line x1="51.5" y1="595" x2="51.5" y2="603"/>
<line x1="55.5" y1="596" x2="55.5" y2="603"/>
<line x1="59.5" y1="596" x2="59.5" y2="603"/>
<line x1="63.5" y1="597" x2="63.5" y2="603"/>
<line x1="67.5" y1="598" x2="67.5" y2="603"/>
<line x1="71.5" y1="601" x2="71.5" y2="603"/>
<line x1="75.5" y1="602" x2="75.5" y2="603"/>
<line x1="79.5" y1="602" x2="79.5" y2="604"/>
<line x1="83.5" y1="602" x2="83.5" y2="603"/>
<line x1="87.5" y1="602" x2="87.5" y2="606"/>
<line x1="91.5" y1="602" x2="91.5" y2="606"/>
<line x1="95.5" y1="602" x2="95.5" y2="605"/>
<line x1="99.5" y1="602" x2="99.5" y2="605"/>
<line x1="103.5" y1="602" x2="103.5" y2="607"/>
<line x1="107.5" y1="602" x2="107.5" y2="608"/>
<line x1="111.5" y1="602" x2="111.5" y2="607"/>
<line x1="115.5" y1="602" x2="115.5" y2="607"/>
<line x1="119.5" y1="602" x2="119.5" y2="607"/>
<line x1="123.5" y1="602" x2="123.5" y2="607"/>
<line x1="127.5" y1="602" x2="127.5" y2="611"/>
<line x1="131.5" y1="602" x2="131.5" y2="613"/>
<line x1="135.5" y1="602" x2="135.5" y2="615"/>
<line x1="139.5" y1="602" x2="139.5" y2="613"/>
<line x1="143.5" y1="602" x2="143.5" y2="613"/>
<line x1="147.5" y1="602" x2="147.5" y2="616"/>
<line x1="151.5" y1="602" x2="151.5" y2="618"/>
<line x1="155.5" y1="602" x2="155.5" y2="618"/>
<line x1="159.5" y1="602" x2="159.5" y2="618"/>
<line x1="163.5" y1="602" x2="163.5" y2="618"/>
<line x1="167.5" y1="602" x2="167.5" y2="618"/>
<line x1="171.5" y1="602" x2="171.5" y2="618"/>
<line x1="175.5" y1="602" x2="175.5" y2="619"/>
<line x1="179.5" y1="602" x2="179.5" y2="618"/>
<line x1="183.5" y1="602" x2="183.5" y2="618"/>
<line x1="187.5" y1="602" x2="187.5" y2="618"/>
<line x1="191.5" y1="602" x2="191.5" y2="617"/>
<line x1="195.5" y1="602" x2="195.5" y2="617"/>
<line x1="199.5" y1="602" x2="199.5" y2="616"/>
<line x1="203.5" y1="602" x2="203.5" y2="611"/>
<line x1="207.5" y1="602" x2="207.5" y2="610"/>
<line x1="211.5" y1="602" x2="211.5" y2="609"/>
<line x1="215.5" y1="602" x2="215.5" y2="608"/>
<line x1="219.5" y1="602" x2="219.5" y2="610"/>
<line x1="223.5" y1="602" x2="223.5" y2="608"/>
<line x1="227.5" y1="602" x2="227.5" y2="607"/>
<line x1="231.5" y1="602" x2="231.5" y2="606"/>
<line x1="235.5" y1="602" x2="235.5" y2="605"/>
<line x1="239.5" y1="602" x2="239.5" y2="604"/>
<line x1="243.5" y1="602" x2="243.5" y2="603"/>
<line x1="247.5" y1="602" x2="247.5" y2="605"/>
<line x1="251.5" y1="602" x2="251.5" y2="608"/>
<line x1="255.5" y1="602" x2="255.5" y2="612"/>
<line x1="259.5" y1="602" x2="259.5" y2="616"/>
<line x1="263.5" y1="602" x2="263.5" y2="619"/>
<line x1="267.5" y1="602" x2="267.5" y2="622"/>
<line x1="271.5" y1="602" x2="271.5" y2="629"/>
<line x1="275.5" y1="602" x2="275.5" y2="637"/>
<line x1="279.5" y1="602" x2="279.5" y2="639"/>
<line x1="283.5" y1="602" x2="283.5" y2="638"/>
<line x1="287.5" y1="602" x2="287.5" y2="637"/>
<line x1="291.5" y1="602" x2="291.5" y2="635"/>
<line x1="295.5" y1="602" x2="295.5" y2="636"/>
<line x1="299.5" y1="602" x2="299.5" y2="635"/>
<line x1="303.5" y1="602" x2="303.5" y2="636"/>
<line x1="307.5" y1="602" x2="307.5" y2="635"/>
<line x1="311.5" y1="602" x2="311.5" y2="633"/>
<line x1="315.5" y1="602" x2="315.5" y2="631"/>
<line x1="319.5" y1="602" x2="319.5" y2="628"/>
<line x1="323.5" y1="602" x2="323.5" y2="623"/>
<line x1="327.5" y1="602" x2="327.5" y2="621"/>
<line x1="331.5" y1="602" x2="331.5" y2="618"/>
<line x1="335.5" y1="602" x2="335.5" y2="615"/>
<line x1="339.5" y1="602" x2="339.5" y2="611"/>
<line x1="343.5" y1="602" x2="343.5" y2="607"/>
<line x1="347.5" y1="602" x2="347.5" y2="603"/>
<line x1="351.5" y1="600" x2="351.5" y2="603"/>
<line x1="355.5" y1="599" x2="355.5" y2="603"/>
<line x1="359.5" y1="599" x2="359.5" y2="603"/>
<line x1="363.5" y1="599" x2="363.5" y2="603"/>
<line x1="367.5" y1="600" x2="367.5" y2="603"/>
<line x1="371.5" y1="598" x2="371.5" y2="603"/>
<line x1="375.5" y1="597" x2="375.5" y2="603"/>
<line x1="379.5" y1="595" x2="379.5" y2="603"/>
<line x1="383.5" y1="594" x2="383.5" y2="603"/>
<line x1="387.5" y1="592" x2="387.5" y2="603"/>
<line x1="391.5" y1="594" x2="391.5" y2="603"/>
<line x1="395.5" y1="599" x2="395.5" y2="603"/>
<line x1="399.5" y1="601" x2="399.5" y2="603"/>
<line x1="403.5" y1="601" x2="403.5" y2="603"/>
<line x1="407.5" y1="600" x2="407.5" y2="603"/>
<line x1="411.5" y1="602" x2="411.5" y2="608"/>
<line x1="415.5" y1="602" x2="415.5" y2="613"/>
<line x1="419.5" y1="602" x2="419.5" y2="621"/>
<line x1="423.5" y1="602" x2="423.5" y2="625"/>
<line x1="427.5" y1="602" x2="427.5" y2="630"/>
<line x1="431.5" y1="602" x2="431.5" y2="634"/>
<line x1="435.5" y1="602" x2="435.5" y2="634"/>
<line x1="439.5" y1="602" x2="439.5" y2="633"/>
<line x1="443.5" y1="602" x2="443.5" y2="633"/>
<line x1="447.5" y1="602" x2="447.5" y2="633"/>
<line x1="451.5" y1="602" x2="451.5" y2="635"/>
<line x1="455.5" y1="602" x2="455.5" y2="635"/>
<line x1="459.5" y1="602" x2="459.5" y2="634"/>
<line x1="463.5" y1="602" x2="463.5" y2="634"/>
<line x1="467.5" y1="602" x2="467.5" y2="634"/>
<line x1="471.5" y1="602" x2="471.5" y2="635"/>
<line x1="475.5" y1="602" x2="475.5" y2="635"/>
<line x1="479.5" y1="602" x2="479.5" y2="636"/>
<line x1="483.5" y1="602" x2="483.5" y2="640"/>
<line x1="487.5" y1="602" x2="487.5" y2="640"/>
<line x1="491.5" y1="602" x2="491.5" y2="641"/>
<line x1="495.5" y1="602" x2="495.5" y2="636"/>
<line x1="499.5" y1="602" x2="499.5" y2="633"/>
<line x1="503.5" y1="602" x2="503.5" y2="629"/>
<line x1="507.5" y1="602" x2="507.5" y2="627"/>
<line x1="511.5" y1="602" x2="511.5" y2="627"/>
<line x1="515.5" y1="602" x2="515.5" y2="633"/>
<line x1="519.5" y1="602" x2="519.5" y2="634"/>
<line x1="523.5" y1="602" x2="523.5" y2="634"/>
<line x1="527.5" y1="602" x2="527.5" y2="635"/>
<line x1="531.5" y1="602" x2="531.5" y2="636"/>
<line x1="535.5" y1="602" x2="535.5" y2="636"/>
<line x1="539.5" y1="602" x2="539.5" y2="634"/>
<line x1="543.5" y1="602" x2="543.5" y2="631"/>
<line x1="547.5" y1="602" x2="547.5" y2="623"/>
<line x1="551.5" y1="602" x2="551.5" y2="623"/>
<line x1="555.5" y1="602" x2="555.5" y2="622"/>
<line x1="559.5" y1="602" x2="559.5" y2="622"/>
<line x1="563.5" y1="602" x2="563.5" y2="624"/>
<line x1="567.5" y1="602" x2="567.5" y2="618"/>
<line x1="571.5" y1="602" x2="571.5" y2="617"/>
<line x1="575.5" y1="602" x2="575.5" y2="611"/>
<line x1="579.5" y1="602" x2="579.5" y2="605"/>
<line x1="583.5" y1="601" x2="583.5" y2="603"/>
<line x1="587.5" y1="596" x2="587.5" y2="603"/>
<line x1="591.5" y1="590" x2="591.5" y2="603"/>
<line x1="595.5" y1="589" x2="595.5" y2="603"/>
<line x1="599.5" y1="587" x2="599.5" y2="603"/>
<line x1="603.5" y1="586" x2="603.5" y2="603"/>
<line x1="607.5" y1="586" x2="607.5" y2="603"/>
<line x1="611.5" y1="587" x2="611.5" y2="603"/>
<line x1="615.5" y1="589" x2="615.5" y2="603"/>
<line x1="619.5" y1="589" x2="619.5" y2="603"/>
<line x1="623.5" y1="591" x2="623.5" y2="603"/>
<line x1="627.5" y1="594" x2="627.5" y2="603"/>
<line x1="631.5" y1="597" x2="631.5" y2="603"/>
<line x1="635.5" y1="599" x2="635.5" y2="603"/>
<line x1="639.5" y1="600" x2="639.5" y2="603"/>
<line x1="643.5" y1="599" x2="643.5" y2="603"/>
<line x1="647.5" y1="599" x2="647.5" y2="603"/>
<line x1="651.5" y1="602" x2="651.5" y2="604"/>
<line x1="655.5" y1="602" x2="655.5" y2="606"/>
<line x1="659.5" y1="602" x2="659.5" y2="609"/>
<line x1="663.5" y1="602" x2="663.5" y2="607"/>
<line x1="667.5" y1="602" x2="667.5" y2="609"/>
<line x1="671.5" y1="602" x2="671.5" y2="612"/>
<line x1="675.5" y1="602" x2="675.5" y2="613"/>
<line x1="679.5" y1="602" x2="679.5" y2="614"/>
<line x1="683.5" y1="602" x2="683.5" y2="615"/>
<line x1="687.5" y1="602" x2="687.5" y2="613"/>
<line x1="691.5" y1="602" x2="691.5" y2="613"/>
<line x1="695.5" y1="602" x2="695.5" y2="611"/>
<line x1="699.5" y1="602" x2="699.5" y2="607"/>
<line x1="703.5" y1="602" x2="703.5" y2="605"/>
<line x1="707.5" y1="602" x2="707.5" y2="603"/>
<line x1="711.5" y1="599" x2="711.5" y2="603"/>
<line x1="715.5" y1="594" x2="715.5" y2="603"/>
<line x1="719.5" y1="589" x2="719.5" y2="603"/>
<line x1="723.5" y1="585" x2="723.5" y2="603"/>
<line x1="727.5" y1="581" x2="727.5" y2="603"/>
<line x1="731.5" y1="578" x2="731.5" y2="603"/>
<line x1="735.5" y1="577" x2="735.5" y2="603"/>
<line x1="739.5" y1="575" x2="739.5" y2="603"/>
<line x1="743.5" y1="574" x2="743.5" y2="603"/>
<line x1="747.5" y1="573" x2="747.5" y2="603"/>
<line x1="751.5" y1="573" x2="751.5" y2="603"/>
<line x1="755.5" y1="573" x2="755.5" y2="603"/>
<line x1="759.5" y1="575" x2="759.5" y2="603"/>
<line x1="763.5" y1="576" x2="763.5" y2="603"/>
<line x1="767.5" y1="575" x2="767.5" y2="603"/>
<line x1="771.5" y1="573" x2="771.5" y2="603"/>
<line x1="775.5" y1="573" x2="775.5" y2="603"/>
<line x1="779.5" y1="571" x2="779.5" y2="603"/>
<line x1="783.5" y1="568" x2="783.5" y2="603"/>
<line x1="787.5" y1="567" x2="787.5" y2="603"/>
<line x1="791.5" y1="566" x2="791.5" y2="603"/>
<line x1="795.5" y1="565" x2="795.5" y2="603"/>
<line x1="799.5" y1="564" x2="799.5" y2="603"/>
<line x1="803.5" y1="565" x2="803.5" y2="603"/>
<line x1="807.5" y1="566" x2="807.5" y2="603"/>
<line x1="811.5" y1="566" x2="811.5" y2="603"/>
<line x1="815.5" y1="567" x2="815.5" y2="603"/>
<line x1="819.5" y1="569" x2="819.5" y2="603"/>
<line x1="823.5" y1="571" x2="823.5" y2="603"/>
<line x1="827.5" y1="573" x2="827.5" y2="603"/>
<line x1="831.5" y1="576" x2="831.5" y2="603"/>
<line x1="835.5" y1="578" x2="835.5" y2="603"/>
<line x1="839.5" y1="578" x2="839.5" y2="603"/>
<line x1="843.5" y1="578" x2="843.5" y2="603"/>
<line x1="847.5" y1="579" x2="847.5" y2="603"/>
<line x1="851.5" y1="580" x2="851.5" y2="603"/>
<line x1="855.5" y1="581" x2="855.5" y2="603"/>
<line x1="859.5" y1="581" x2="859.5" y2="603"/>
<line x1="863.5" y1="582" x2="863.5" y2="603"/>
<line x1="867.5" y1="585" x2="867.5" y2="603"/>
<line x1="871.5" y1="588" x2="871.5" y2="603"/>
<line x1="875.5" y1="590" x2="875.5" y2="603"/>
<line x1="879.5" y1="592" x2="879.5" y2="603"/>
<line x1="883.5" y1="593" x2="883.5" y2="603"/>
<line x1="887.5" y1="593" x2="887.5" y2="603"/>
<line x1="891.5" y1="593" x2="891.5" y2="603"/>
<line x1="895.5" y1="589" x2="895.5" y2="603"/>
<line x1="899.5" y1="589" x2="899.5" y2="603"/>
<line x1="903.5" y1="585" x2="903.5" y2="603"/>
<line x1="907.5" y1="584" x2="907.5" y2="603"/>
<line x1="911.5" y1="582" x2="911.5" y2="603"/>
<line x1="915.5" y1="579" x2="915.5" y2="603"/>
<line x1="919.5" y1="579" x2="919.5" y2="603"/>
<line x1="923.5" y1="580" x2="923.5" y2="603"/>
<line x1="927.5" y1="582" x2="927.5" y2="603"/>
<line x1="931.5" y1="583" x2="931.5" y2="603"/>
<line x1="935.5" y1="584" x2="935.5" y2="603"/>
<line x1="939.5" y1="584" x2="939.5" y2="603"/>
<line x1="943.5" y1="582" x2="943.5" y2="603"/>
<line x1="947.5" y1="583" x2="947.5" y2="603"/>
<line x1="951.5" y1="583" x2="951.5" y2="603"/>
<line x1="955.5" y1="582" x2="955.5" y2="603"/>
<line x1="959.5" y1="582" x2="959.5" y2="603"/>
<line x1="963.5" y1="583" x2="963.5" y2="603"/>
<line x1="967.5" y1="582" x2="967.5" y2="603"/>
<line x1="971.5" y1="582" x2="971.5" y2="603"/>
<line x1="975.5" y1="583" x2="975.5" y2="603"/>
<line x1="979.5" y1="584" x2="979.5" y2="603"/>
<line x1="983.5" y1="586" x2="983.5" y2="603"/>
<line x1="987.5" y1="586" x2="987.5" y2="603"/>
<line x1="991.5" y1="584" x2="991.5" y2="603"/>
<line x1="995.5" y1="581" x2="995.5" y2="603"/>
<line x1="999.5" y1="579" x2="999.5" y2="603"/>
<line x1="1003.5" y1="577" x2="1003.5" y2="603"/>
<line x1="1007.5" y1="576" x2="1007.5" y2="603"/>
<line x1="1011.5" y1="575" x2="1011.5" y2="603"/>
<line x1="1015.5" y1="576" x2="1015.5" y2="603"/>
<line x1="1019.5" y1="578" x2="1019.5" y2="603"/>
<line x1="1023.5" y1="578" x2="1023.5" y2="603"/>
<line x1="1027.5" y1="578" x2="1027.5" y2="603"/>
<line x1="1031.5" y1="578" x2="1031.5" y2="603"/>
<line x1="1035.5" y1="579" x2="1035.5" y2="603"/>
<line x1="1039.5" y1="578" x2="1039.5" y2="603"/>
<line x1="1043.5" y1="578" x2="1043.5" y2="603"/>
<line x1="1047.5" y1="578" x2="1047.5" y2="603"/>
<line x1="1051.5" y1="578" x2="1051.5" y2="603"/>
<line x1="1055.5" y1="578" x2="1055.5" y2="603"/>
</g>
<polyline points="3.5,589.3 11.5,591.5 36.3,591.5 60.4,593.6 84.6,599.0 96.7,602.6 120.8,605.6 145.0,611.1 169.2,616.5 198.2,617.4 214.2,613.5 238.3,606.3 257.7,607.5 274.6,617.1 293.9,631.6 310.8,635.7 335.0,626.8 359.2,611.1 371.3,600.9 390.6,594.9 407.5,596.6 419.6,603.8 431.7,617.1 451.0,632.4 467.9,634.0 492.1,636.5 516.3,632.8 533.2,630.4 552.5,631.6 571.9,623.2 597.1,603.5 609.2,593.8 621.3,588.5 633.3,589.5 645.4,593.8 657.5,599.9 669.6,604.0 681.7,609.5 693.8,612.0 705.8,609.5 720.3,602.3 734.8,590.2 754.2,576.4 778.4,572.1 802.5,568.5 824.3,565.3 838.8,571.6 862.9,578.9 887.1,587.1 901.6,589.5 923.4,583.0 975.0,581.5 988.5,582.4 999.4,582.4 1005.7,581.5 1011.6,580.6 1017.4,578.5 1023.7,577.3 1029.2,576.4 1041.3,576.4 1047.2,577.3 1053.5,577.3" fill="none" stroke="#000" stroke-width="1" stroke-dasharray="3 3" shape-rendering="crispEdges"/>
<polygon points="6,9 12.5,9 9.25,12.7" fill="#404040"/>
<text transform="translate(18,13.5) scale(1.0,1)" x="0" y="0" fill="#333" font-size="9.2">.USTECHCash,H4&#160; 15971.30 15977.60 15961.80 15970.10</text>
<text transform="translate(7,471) scale(1.0,1)" x="0" y="0" fill="#333" font-size="9.2">RSI(14) 66.5519</text>
<text transform="translate(7,571) scale(1.0,1)" x="0" y="0" fill="#333" font-size="9.2">MACD(12,26,9) 84.837 85.393</text>
<defs><linearGradient id="lg" x1="0" y1="0" x2="0" y2="1"><stop offset="0" stop-color="#33363d"/><stop offset="1" stop-color="#4b5058"/></linearGradient></defs>
<rect x="9" y="18" width="79" height="39" fill="#fff"/>
<g fill="url(#lg)">
<path d="M18.3,20 H25 V45 Q25,55 15,55 H10 V48.5 H15 Q18.3,48.5 18.3,45 Z"/>
<path d="M30.4,20 H53.8 V26.5 H37.6 V34.3 H49 V40.4 H37.6 V55 H30.4 Z"/>
<rect x="58.5" y="20" width="1.7" height="35"/>
<rect x="56.8" y="31.9" width="5.1" height="11.1"/>
<path d="M62.6,20 H70 Q85,20 85,37.5 Q85,55 70,55 H62.6 V48.2 H70 Q77.1,48.2 77.1,37.5 Q77.1,27.2 70,27.2 H62.6 Z"/>
</g>
<g shape-rendering="crispEdges" stroke="#404040">
<line x1="1605" y1="24.5" x2="1607" y2="24.5"/>
<line x1="1605" y1="57.5" x2="1607" y2="57.5"/>
<line x1="1605" y1="123.5" x2="1607" y2="123.5"/>
<line x1="1605" y1="156.5" x2="1607" y2="156.5"/>
<line x1="1605" y1="189.5" x2="1607" y2="189.5"/>
<line x1="1605" y1="222.5" x2="1607" y2="222.5"/>
<line x1="1605" y1="288.5" x2="1607" y2="288.5"/>
<line x1="1605" y1="321.5" x2="1607" y2="321.5"/>
<line x1="1605" y1="355.5" x2="1607" y2="355.5"/>
<line x1="1605" y1="387.5" x2="1607" y2="387.5"/>
<line x1="1605" y1="420.5" x2="1607" y2="420.5"/>
<line x1="1605" y1="453.5" x2="1607" y2="453.5"/>
<line x1="1605" y1="7.5" x2="1607" y2="7.5"/>
<line x1="1605" y1="50.5" x2="1607" y2="50.5"/>
<line x1="1605" y1="93.5" x2="1607" y2="93.5"/>
<line x1="1605" y1="131.5" x2="1607" y2="131.5"/>
<line x1="1605" y1="162.5" x2="1607" y2="162.5"/>
<line x1="1605" y1="179.5" x2="1607" y2="179.5"/>
<line x1="1605" y1="213.5" x2="1607" y2="213.5"/>
<line x1="1605" y1="257.5" x2="1607" y2="257.5"/>
<line x1="1605" y1="280.5" x2="1607" y2="280.5"/>
<line x1="1605" y1="334.5" x2="1607" y2="334.5"/>
<line x1="1605" y1="370.5" x2="1607" y2="370.5"/>
</g>
<text x="1610.5" y="28" fill="#333" font-size="9.6" textLength="37.3" lengthAdjust="spacingAndGlyphs">16398.05</text>
<text x="1610.5" y="61" fill="#333" font-size="9.6" textLength="37.3" lengthAdjust="spacingAndGlyphs">16208.30</text>
<text x="1610.5" y="127" fill="#333" font-size="9.6" textLength="37.3" lengthAdjust="spacingAndGlyphs">15823.05</text>
<text x="1610.5" y="160" fill="#333" font-size="9.6" textLength="37.3" lengthAdjust="spacingAndGlyphs">15633.30</text>
<text x="1610.5" y="193" fill="#333" font-size="9.6" textLength="37.3" lengthAdjust="spacingAndGlyphs">15443.55</text>
<text x="1610.5" y="226" fill="#333" font-size="9.6" textLength="37.3" lengthAdjust="spacingAndGlyphs">15253.80</text>
<text x="1610.5" y="292" fill="#333" font-size="9.6" textLength="37.3" lengthAdjust="spacingAndGlyphs">14868.55</text>
<text x="1610.5" y="325" fill="#333" font-size="9.6" textLength="37.3" lengthAdjust="spacingAndGlyphs">14678.80</text>
<text x="1610.5" y="359" fill="#333" font-size="9.6" textLength="37.3" lengthAdjust="spacingAndGlyphs">14483.30</text>
<text x="1610.5" y="391" fill="#333" font-size="9.6" textLength="37.3" lengthAdjust="spacingAndGlyphs">14293.55</text>
<text x="1610.5" y="424" fill="#333" font-size="9.6" textLength="37.3" lengthAdjust="spacingAndGlyphs">14103.80</text>
<text x="1610.5" y="457" fill="#333" font-size="9.6" textLength="37.3" lengthAdjust="spacingAndGlyphs">13914.05</text>
<rect x="1606" y="93" width="46" height="11" fill="#404040"/>
<text x="1610.5" y="102" fill="#fff" font-size="9.6" textLength="37.3" lengthAdjust="spacingAndGlyphs">15970.10</text>
<rect x="1606" y="1" width="46" height="11" fill="#000"/>
<text x="1610.5" y="10" fill="#fff" font-size="9.6" textLength="37.3" lengthAdjust="spacingAndGlyphs">16500.00</text>
<rect x="1606" y="44" width="46" height="11" fill="#000"/>
<text x="1610.5" y="53" fill="#fff" font-size="9.6" textLength="37.3" lengthAdjust="spacingAndGlyphs">16250.00</text>
<rect x="1606" y="87" width="46" height="11" fill="#000"/>
<text x="1610.5" y="96" fill="#fff" font-size="9.6" textLength="37.3" lengthAdjust="spacingAndGlyphs">16000.00</text>
<rect x="1606" y="125" width="46" height="11" fill="#000"/>
<text x="1610.5" y="134" fill="#fff" font-size="9.6" textLength="37.3" lengthAdjust="spacingAndGlyphs">15780.00</text>
<rect x="1606" y="156" width="46" height="11" fill="#000"/>
<text x="1610.5" y="165" fill="#fff" font-size="9.6" textLength="37.3" lengthAdjust="spacingAndGlyphs">15600.00</text>
<rect x="1606" y="173" width="46" height="11" fill="#000"/>
<text x="1610.5" y="182" fill="#fff" font-size="9.6" textLength="37.3" lengthAdjust="spacingAndGlyphs">15500.00</text>
<rect x="1606" y="207" width="46" height="11" fill="#000"/>
<text x="1610.5" y="216" fill="#fff" font-size="9.6" textLength="37.3" lengthAdjust="spacingAndGlyphs">15305.00</text>
<rect x="1606" y="251" width="46" height="11" fill="#000"/>
<text x="1610.5" y="260" fill="#fff" font-size="9.6" textLength="37.3" lengthAdjust="spacingAndGlyphs">15050.00</text>
<rect x="1606" y="274" width="46" height="11" fill="#000"/>
<text x="1610.5" y="283" fill="#fff" font-size="9.6" textLength="37.3" lengthAdjust="spacingAndGlyphs">14915.00</text>
<rect x="1606" y="328" width="46" height="11" fill="#000"/>
<text x="1610.5" y="337" fill="#fff" font-size="9.6" textLength="37.3" lengthAdjust="spacingAndGlyphs">14600.00</text>
<rect x="1606" y="364" width="46" height="11" fill="#000"/>
<text x="1610.5" y="373" fill="#fff" font-size="9.6" textLength="37.3" lengthAdjust="spacingAndGlyphs">14390.00</text>
<text x="1608" y="469" fill="#333" font-size="9.2">100</text>
<text x="1608" y="491.5" fill="#333" font-size="9.2">70</text>
<text x="1608" y="510.5" fill="#333" font-size="9.2">50</text>
<text x="1608" y="530.5" fill="#333" font-size="9.2">30</text>
<text x="1608" y="553" fill="#333" font-size="9.2">0</text>
<g shape-rendering="crispEdges" stroke="#404040">
<line x1="1605" y1="460.5" x2="1607" y2="460.5"/>
<line x1="1605" y1="559.5" x2="1607" y2="559.5"/>
<line x1="1605" y1="602.5" x2="1607" y2="602.5"/>
<line x1="1605" y1="644.5" x2="1607" y2="644.5"/>
</g>
<text x="1608.3" y="569" fill="#333" font-size="9.2">144.711</text>
<text x="1608.3" y="605.6" fill="#333" font-size="9.2">0.00</text>
<text x="1608.3" y="640.3" fill="#333" font-size="9.2">-138.199</text>
<g shape-rendering="crispEdges" stroke="#404040">
<line x1="3.5" y1="645" x2="3.5" y2="648"/>
<line x1="67.5" y1="645" x2="67.5" y2="648"/>
<line x1="131.5" y1="645" x2="131.5" y2="648"/>
<line x1="195.5" y1="645" x2="195.5" y2="648"/>
<line x1="259.5" y1="645" x2="259.5" y2="648"/>
<line x1="323.5" y1="645" x2="323.5" y2="648"/>
<line x1="387.5" y1="645" x2="387.5" y2="648"/>
<line x1="451.5" y1="645" x2="451.5" y2="648"/>
<line x1="515.5" y1="645" x2="515.5" y2="648"/>
<line x1="579.5" y1="645" x2="579.5" y2="648"/>
<line x1="643.5" y1="645" x2="643.5" y2="648"/>
<line x1="707.5" y1="645" x2="707.5" y2="648"/>
<line x1="771.5" y1="645" x2="771.5" y2="648"/>
<line x1="835.5" y1="645" x2="835.5" y2="648"/>
<line x1="899.5" y1="645" x2="899.5" y2="648"/>
<line x1="963.5" y1="645" x2="963.5" y2="648"/>
<line x1="1027.5" y1="645" x2="1027.5" y2="648"/>
</g>
<text transform="translate(2.5,657) scale(1.0,1)" x="0" y="0" fill="#333" font-size="9.2">3 Sep 2021</text>
<text transform="translate(66.5,657) scale(1.0,1)" x="0" y="0" fill="#333" font-size="9.2">8 Sep 08:00</text>
<text transform="translate(130.5,657) scale(1.0,1)" x="0" y="0" fill="#333" font-size="9.2">12 Sep 23:00</text>
<text transform="translate(194.5,657) scale(1.0,1)" x="0" y="0" fill="#333" font-size="9.2">15 Sep 12:00</text>
<text transform="translate(258.5,657) scale(1.0,1)" x="0" y="0" fill="#333" font-size="9.2">20 Sep 00:00</text>
<text transform="translate(322.5,657) scale(1.0,1)" x="0" y="0" fill="#333" font-size="9.2">22 Sep 16:00</text>
<text transform="translate(386.5,657) scale(1.0,1)" x="0" y="0" fill="#333" font-size="9.2">27 Sep 04:00</text>
<text transform="translate(450.5,657) scale(1.0,1)" x="0" y="0" fill="#333" font-size="9.2">29 Sep 20:00</text>
<text transform="translate(514.5,657) scale(1.0,1)" x="0" y="0" fill="#333" font-size="9.2">4 Oct 08:00</text>
<text transform="translate(578.5,657) scale(1.0,1)" x="0" y="0" fill="#333" font-size="9.2">7 Oct 00:00</text>
<text transform="translate(642.5,657) scale(1.0,1)" x="0" y="0" fill="#333" font-size="9.2">11 Oct 12:00</text>
<text transform="translate(706.5,657) scale(1.0,1)" x="0" y="0" fill="#333" font-size="9.2">14 Oct 04:00</text>
<text transform="translate(770.5,657) scale(1.0,1)" x="0" y="0" fill="#333" font-size="9.2">18 Oct 16:00</text>
<text transform="translate(834.5,657) scale(1.0,1)" x="0" y="0" fill="#333" font-size="9.2">21 Oct 08:00</text>
<text transform="translate(898.5,657) scale(1.0,1)" x="0" y="0" fill="#333" font-size="9.2">25 Oct 20:00</text>
<text transform="translate(962.5,657) scale(1.0,1)" x="0" y="0" fill="#333" font-size="9.2">28 Oct 12:00</text>
<text transform="translate(1026.5,657) scale(1.0,1)" x="0" y="0" fill="#333" font-size="9.2">2 Nov 00:00</text>
</svg></body></html>
